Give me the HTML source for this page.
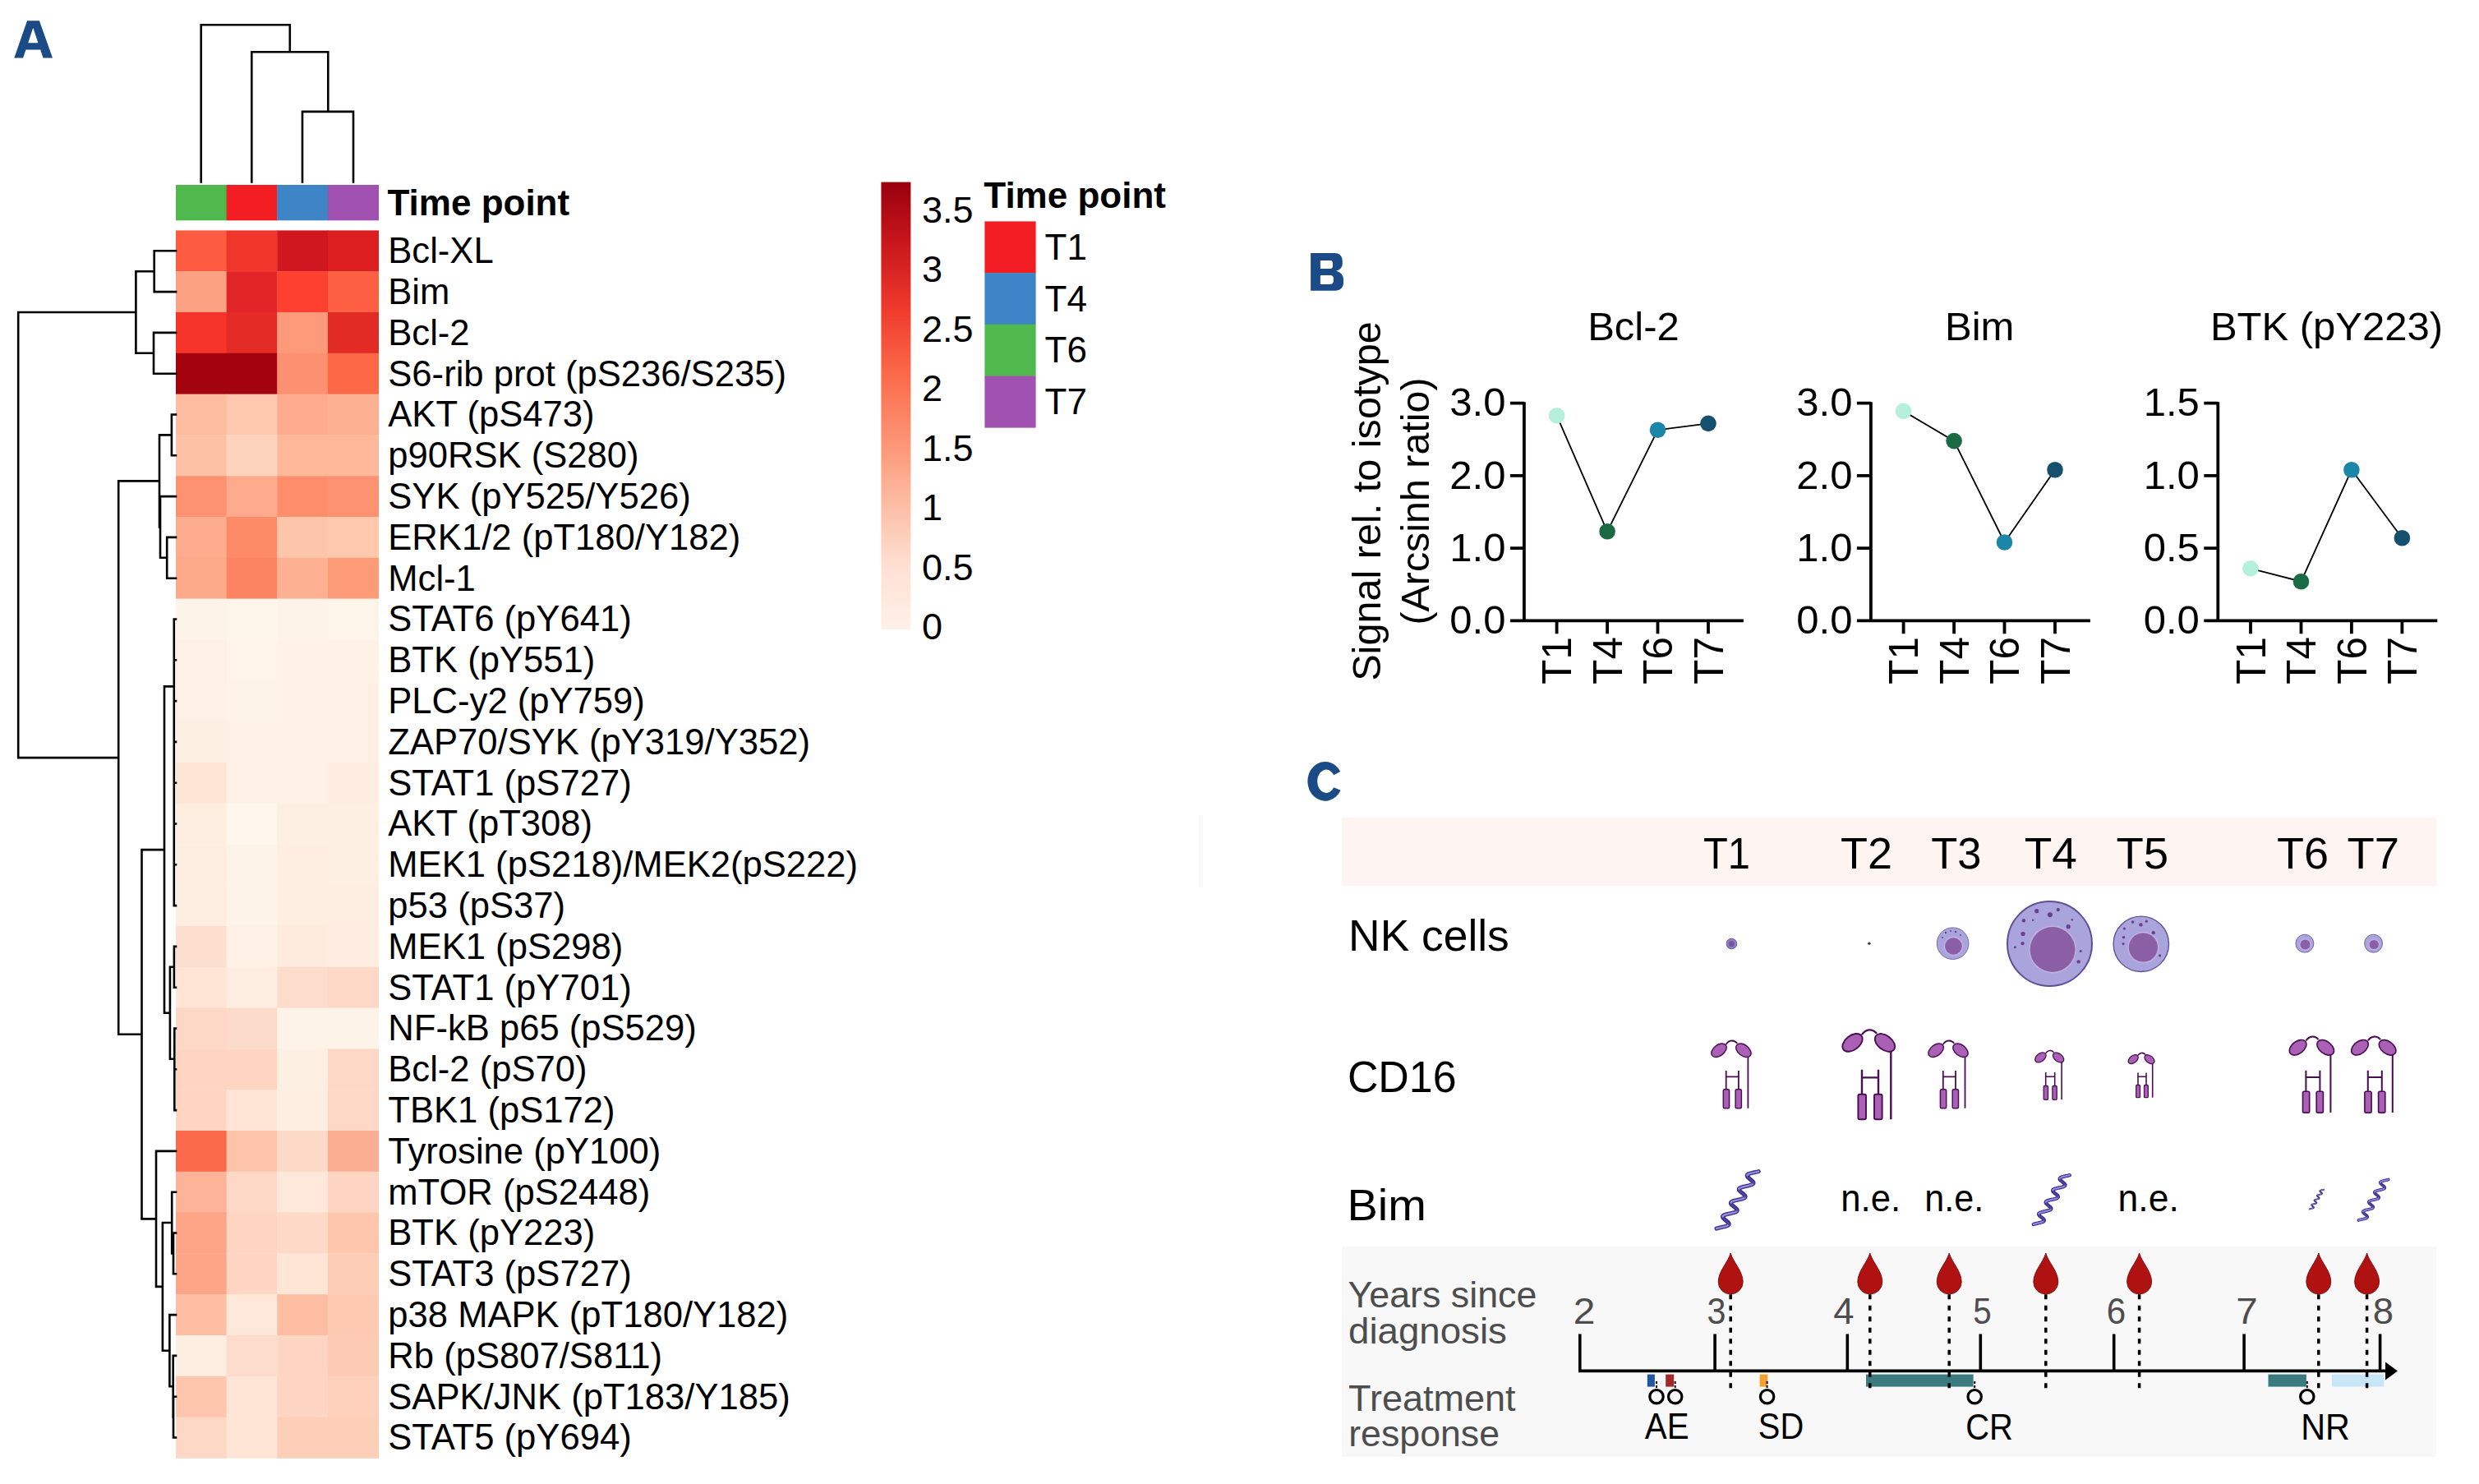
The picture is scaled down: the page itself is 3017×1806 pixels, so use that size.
<!DOCTYPE html>
<html><head><meta charset="utf-8"><style>
html,body{margin:0;padding:0;background:#fff;}
body{width:3017px;height:1806px;overflow:hidden;}
svg{display:block;}
</style></head><body>
<svg width="3017" height="1806" viewBox="0 0 3017 1806">
<rect width="3017" height="1806" fill="#fff"/>
<path fill-rule="evenodd" fill="#1b4b87" d="M17.3 70.6L33 25.2L47.9 25.2L64 70.6L52.5 70.6L49.2 60.6L31.4 60.6L28.1 70.6ZM40.3 33.7L46.4 52.2L34.2 52.2Z"/>
<rect x="214.00" y="280.40" width="62.05" height="50.20" fill="#fd5c40"/>
<rect x="275.65" y="280.40" width="62.05" height="50.20" fill="#f0352a"/>
<rect x="337.30" y="280.40" width="62.05" height="50.20" fill="#d0161f"/>
<rect x="398.95" y="280.40" width="62.05" height="50.20" fill="#dd1e21"/>
<rect x="214.00" y="330.20" width="62.05" height="50.20" fill="#fca283"/>
<rect x="275.65" y="330.20" width="62.05" height="50.20" fill="#e22527"/>
<rect x="337.30" y="330.20" width="62.05" height="50.20" fill="#fe402f"/>
<rect x="398.95" y="330.20" width="62.05" height="50.20" fill="#fd5f43"/>
<rect x="214.00" y="380.00" width="62.05" height="50.20" fill="#f5342a"/>
<rect x="275.65" y="380.00" width="62.05" height="50.20" fill="#e52b26"/>
<rect x="337.30" y="380.00" width="62.05" height="50.20" fill="#fc9a7a"/>
<rect x="398.95" y="380.00" width="62.05" height="50.20" fill="#e32b25"/>
<rect x="214.00" y="429.80" width="62.05" height="50.20" fill="#a3020f"/>
<rect x="275.65" y="429.80" width="62.05" height="50.20" fill="#a3020f"/>
<rect x="337.30" y="429.80" width="62.05" height="50.20" fill="#fd9070"/>
<rect x="398.95" y="429.80" width="62.05" height="50.20" fill="#fd6947"/>
<rect x="214.00" y="479.60" width="62.05" height="50.20" fill="#fdbba0"/>
<rect x="275.65" y="479.60" width="62.05" height="50.20" fill="#fdc8ad"/>
<rect x="337.30" y="479.60" width="62.05" height="50.20" fill="#fdac8d"/>
<rect x="398.95" y="479.60" width="62.05" height="50.20" fill="#fdb193"/>
<rect x="214.00" y="529.40" width="62.05" height="50.20" fill="#fdc2a6"/>
<rect x="275.65" y="529.40" width="62.05" height="50.20" fill="#fdd3bd"/>
<rect x="337.30" y="529.40" width="62.05" height="50.20" fill="#fdb89a"/>
<rect x="398.95" y="529.40" width="62.05" height="50.20" fill="#fdb89a"/>
<rect x="214.00" y="579.20" width="62.05" height="50.20" fill="#fd9270"/>
<rect x="275.65" y="579.20" width="62.05" height="50.20" fill="#fdab8c"/>
<rect x="337.30" y="579.20" width="62.05" height="50.20" fill="#fd8e6c"/>
<rect x="398.95" y="579.20" width="62.05" height="50.20" fill="#fd9270"/>
<rect x="214.00" y="629.00" width="62.05" height="50.20" fill="#fdac8e"/>
<rect x="275.65" y="629.00" width="62.05" height="50.20" fill="#fd8b68"/>
<rect x="337.30" y="629.00" width="62.05" height="50.20" fill="#fdc6aa"/>
<rect x="398.95" y="629.00" width="62.05" height="50.20" fill="#fdc8ac"/>
<rect x="214.00" y="678.80" width="62.05" height="50.20" fill="#fdaa8b"/>
<rect x="275.65" y="678.80" width="62.05" height="50.20" fill="#fd8462"/>
<rect x="337.30" y="678.80" width="62.05" height="50.20" fill="#fdb092"/>
<rect x="398.95" y="678.80" width="62.05" height="50.20" fill="#fd9b78"/>
<rect x="214.00" y="728.60" width="62.05" height="50.20" fill="#fef3e8"/>
<rect x="275.65" y="728.60" width="62.05" height="50.20" fill="#fef5ea"/>
<rect x="337.30" y="728.60" width="62.05" height="50.20" fill="#fef3e8"/>
<rect x="398.95" y="728.60" width="62.05" height="50.20" fill="#fef5ea"/>
<rect x="214.00" y="778.40" width="62.05" height="50.20" fill="#fef0e4"/>
<rect x="275.65" y="778.40" width="62.05" height="50.20" fill="#fef4e9"/>
<rect x="337.30" y="778.40" width="62.05" height="50.20" fill="#fef2e7"/>
<rect x="398.95" y="778.40" width="62.05" height="50.20" fill="#fef2e7"/>
<rect x="214.00" y="828.20" width="62.05" height="50.20" fill="#fef0e4"/>
<rect x="275.65" y="828.20" width="62.05" height="50.20" fill="#fef3e8"/>
<rect x="337.30" y="828.20" width="62.05" height="50.20" fill="#fef2e7"/>
<rect x="398.95" y="828.20" width="62.05" height="50.20" fill="#fef0e4"/>
<rect x="214.00" y="878.00" width="62.05" height="50.20" fill="#feefe3"/>
<rect x="275.65" y="878.00" width="62.05" height="50.20" fill="#fef2e7"/>
<rect x="337.30" y="878.00" width="62.05" height="50.20" fill="#fef2e7"/>
<rect x="398.95" y="878.00" width="62.05" height="50.20" fill="#fef0e4"/>
<rect x="214.00" y="927.80" width="62.05" height="50.20" fill="#fee6d7"/>
<rect x="275.65" y="927.80" width="62.05" height="50.20" fill="#fef2e7"/>
<rect x="337.30" y="927.80" width="62.05" height="50.20" fill="#fef2e7"/>
<rect x="398.95" y="927.80" width="62.05" height="50.20" fill="#feede0"/>
<rect x="214.00" y="977.60" width="62.05" height="50.20" fill="#feeee2"/>
<rect x="275.65" y="977.60" width="62.05" height="50.20" fill="#fef7ee"/>
<rect x="337.30" y="977.60" width="62.05" height="50.20" fill="#feefe3"/>
<rect x="398.95" y="977.60" width="62.05" height="50.20" fill="#feefe3"/>
<rect x="214.00" y="1027.40" width="62.05" height="50.20" fill="#feeee2"/>
<rect x="275.65" y="1027.40" width="62.05" height="50.20" fill="#fef3e8"/>
<rect x="337.30" y="1027.40" width="62.05" height="50.20" fill="#feeee2"/>
<rect x="398.95" y="1027.40" width="62.05" height="50.20" fill="#feefe3"/>
<rect x="214.00" y="1077.20" width="62.05" height="50.20" fill="#feeee2"/>
<rect x="275.65" y="1077.20" width="62.05" height="50.20" fill="#fef3e8"/>
<rect x="337.30" y="1077.20" width="62.05" height="50.20" fill="#feeee2"/>
<rect x="398.95" y="1077.20" width="62.05" height="50.20" fill="#feeee2"/>
<rect x="214.00" y="1127.00" width="62.05" height="50.20" fill="#fddfd0"/>
<rect x="275.65" y="1127.00" width="62.05" height="50.20" fill="#fef0e4"/>
<rect x="337.30" y="1127.00" width="62.05" height="50.20" fill="#feebde"/>
<rect x="398.95" y="1127.00" width="62.05" height="50.20" fill="#feede0"/>
<rect x="214.00" y="1176.80" width="62.05" height="50.20" fill="#fee5d6"/>
<rect x="275.65" y="1176.80" width="62.05" height="50.20" fill="#feeee2"/>
<rect x="337.30" y="1176.80" width="62.05" height="50.20" fill="#fddccc"/>
<rect x="398.95" y="1176.80" width="62.05" height="50.20" fill="#fdd8c6"/>
<rect x="214.00" y="1226.60" width="62.05" height="50.20" fill="#fdd8c6"/>
<rect x="275.65" y="1226.60" width="62.05" height="50.20" fill="#fddbcb"/>
<rect x="337.30" y="1226.60" width="62.05" height="50.20" fill="#fef3e8"/>
<rect x="398.95" y="1226.60" width="62.05" height="50.20" fill="#fef3e8"/>
<rect x="214.00" y="1276.40" width="62.05" height="50.20" fill="#fdd5c2"/>
<rect x="275.65" y="1276.40" width="62.05" height="50.20" fill="#fdd5c2"/>
<rect x="337.30" y="1276.40" width="62.05" height="50.20" fill="#feefe3"/>
<rect x="398.95" y="1276.40" width="62.05" height="50.20" fill="#fdd8c6"/>
<rect x="214.00" y="1326.20" width="62.05" height="50.20" fill="#fdd5c2"/>
<rect x="275.65" y="1326.20" width="62.05" height="50.20" fill="#fee5d6"/>
<rect x="337.30" y="1326.20" width="62.05" height="50.20" fill="#feeee2"/>
<rect x="398.95" y="1326.20" width="62.05" height="50.20" fill="#fdd8c6"/>
<rect x="214.00" y="1376.00" width="62.05" height="50.20" fill="#fb6a4a"/>
<rect x="275.65" y="1376.00" width="62.05" height="50.20" fill="#fdc4aa"/>
<rect x="337.30" y="1376.00" width="62.05" height="50.20" fill="#fdd9c7"/>
<rect x="398.95" y="1376.00" width="62.05" height="50.20" fill="#fcae92"/>
<rect x="214.00" y="1425.80" width="62.05" height="50.20" fill="#fcb398"/>
<rect x="275.65" y="1425.80" width="62.05" height="50.20" fill="#fdd8c6"/>
<rect x="337.30" y="1425.80" width="62.05" height="50.20" fill="#fee8da"/>
<rect x="398.95" y="1425.80" width="62.05" height="50.20" fill="#fdd5c2"/>
<rect x="214.00" y="1475.60" width="62.05" height="50.20" fill="#fca587"/>
<rect x="275.65" y="1475.60" width="62.05" height="50.20" fill="#fdd5c2"/>
<rect x="337.30" y="1475.60" width="62.05" height="50.20" fill="#fdd9c7"/>
<rect x="398.95" y="1475.60" width="62.05" height="50.20" fill="#fdc6ad"/>
<rect x="214.00" y="1525.40" width="62.05" height="50.20" fill="#fca587"/>
<rect x="275.65" y="1525.40" width="62.05" height="50.20" fill="#fdd5c2"/>
<rect x="337.30" y="1525.40" width="62.05" height="50.20" fill="#fee5d6"/>
<rect x="398.95" y="1525.40" width="62.05" height="50.20" fill="#fdcdb7"/>
<rect x="214.00" y="1575.20" width="62.05" height="50.20" fill="#fdbea4"/>
<rect x="275.65" y="1575.20" width="62.05" height="50.20" fill="#fee8da"/>
<rect x="337.30" y="1575.20" width="62.05" height="50.20" fill="#fdbea4"/>
<rect x="398.95" y="1575.20" width="62.05" height="50.20" fill="#fdc9b1"/>
<rect x="214.00" y="1625.00" width="62.05" height="50.20" fill="#feede1"/>
<rect x="275.65" y="1625.00" width="62.05" height="50.20" fill="#fddccb"/>
<rect x="337.30" y="1625.00" width="62.05" height="50.20" fill="#fdd5c2"/>
<rect x="398.95" y="1625.00" width="62.05" height="50.20" fill="#fdcbb4"/>
<rect x="214.00" y="1674.80" width="62.05" height="50.20" fill="#fdc6ad"/>
<rect x="275.65" y="1674.80" width="62.05" height="50.20" fill="#fee5d6"/>
<rect x="337.30" y="1674.80" width="62.05" height="50.20" fill="#fdd5c2"/>
<rect x="398.95" y="1674.80" width="62.05" height="50.20" fill="#fdd0bb"/>
<rect x="214.00" y="1724.60" width="62.05" height="50.20" fill="#fdd8c6"/>
<rect x="275.65" y="1724.60" width="62.05" height="50.20" fill="#fee5d6"/>
<rect x="337.30" y="1724.60" width="62.05" height="50.20" fill="#fdcfb9"/>
<rect x="398.95" y="1724.60" width="62.05" height="50.20" fill="#fdcfb9"/>
<rect x="214.00" y="225" width="62.05" height="43.3" fill="#4fb94d"/>
<rect x="275.65" y="225" width="62.05" height="43.3" fill="#f11d22"/>
<rect x="337.30" y="225" width="62.05" height="43.3" fill="#3d85c6"/>
<rect x="398.95" y="225" width="62.05" height="43.3" fill="#a152b0"/>
<path d="M244.7 30.3V221.4M244.7 30.3H352.8M352.8 30.3V63.3M306.3 63.3H399.3M306.3 63.3V221.4M399.3 63.3V135.9M368.0 135.9H430.0M368.0 135.9V221.4M430.0 135.9V221.4M187.7 305.3V355.1M187.7 305.3H214.0M187.7 355.1H214.0M187.0 404.9V454.7M187.0 404.9H214.0M187.0 454.7H214.0M165.4 330.2V429.8M165.4 330.2H187.7M165.4 429.8H187.0M22.2 380.0H165.4M208.9 504.5V554.3M208.9 504.5H214.0M208.9 554.3H214.0M203.2 653.9V703.7M203.2 653.9H214.0M203.2 703.7H214.0M195.0 604.1V678.8M195.0 604.1H214.0M195.0 678.8H203.2M194.0 529.4V641.4M194.0 529.4H208.9M194.0 641.4H195.0M144.2 585.4H194.0M211.8 753.5V1102.1M211.8 753.5H214.0M211.8 803.3H214.0M211.8 853.1H214.0M211.8 902.9H214.0M211.8 952.7H214.0M211.8 1002.5H214.0M211.8 1052.3H214.0M211.8 1102.1H214.0M200.0 835.4H211.8M211.9 1151.9V1201.7M211.9 1151.9H214.0M211.9 1201.7H214.0M212.3 1251.5V1351.1M212.3 1251.5H214.0M212.3 1301.3H214.0M212.3 1351.1H214.0M206.9 1176.8V1288.8M206.9 1176.8H211.9M206.9 1288.8H212.3M200.0 1232.8H206.9M200.0 835.4V1232.8M172.5 1034.1H200.0M190.0 1400.9H214.0M211.0 1500.5V1550.3M211.0 1500.5H214.0M211.0 1550.3H214.0M209.2 1450.7V1525.4M209.2 1450.7H214.0M209.2 1525.4H211.0M211.0 1699.7V1749.5M211.0 1699.7H214.0M211.0 1749.5H214.0M210.7 1649.9V1724.6M210.7 1649.9H214.0M210.7 1724.6H211.0M206.4 1600.1V1687.2M206.4 1600.1H214.0M206.4 1687.2H210.7M197.9 1488.0V1643.7M197.9 1488.0H209.2M197.9 1643.7H206.4M190.0 1400.9V1565.9M190.0 1565.9H197.9M172.5 1034.1V1483.4M172.5 1483.4H190.0M144.2 1258.7H172.5M144.2 585.4V1258.7M22.2 922.1H144.2M22.2 380.0V922.1" stroke="#000" stroke-width="2.6" fill="none" stroke-linecap="square"/>
<text x="472.3" y="320.2" font-family='"Liberation Sans", sans-serif' font-size="43.6" fill="#000">Bcl-XL</text>
<text x="472.3" y="370.0" font-family='"Liberation Sans", sans-serif' font-size="43.6" fill="#000">Bim</text>
<text x="472.3" y="419.8" font-family='"Liberation Sans", sans-serif' font-size="43.6" fill="#000">Bcl-2</text>
<text x="472.3" y="469.6" font-family='"Liberation Sans", sans-serif' font-size="43.6" fill="#000">S6-rib prot (pS236/S235)</text>
<text x="472.3" y="519.4" font-family='"Liberation Sans", sans-serif' font-size="43.6" fill="#000">AKT (pS473)</text>
<text x="472.3" y="569.2" font-family='"Liberation Sans", sans-serif' font-size="43.6" fill="#000">p90RSK (S280)</text>
<text x="472.3" y="619.0" font-family='"Liberation Sans", sans-serif' font-size="43.6" fill="#000">SYK (pY525/Y526)</text>
<text x="472.3" y="668.8" font-family='"Liberation Sans", sans-serif' font-size="43.6" fill="#000">ERK1/2 (pT180/Y182)</text>
<text x="472.3" y="718.6" font-family='"Liberation Sans", sans-serif' font-size="43.6" fill="#000">Mcl-1</text>
<text x="472.3" y="768.4" font-family='"Liberation Sans", sans-serif' font-size="43.6" fill="#000">STAT6 (pY641)</text>
<text x="472.3" y="818.2" font-family='"Liberation Sans", sans-serif' font-size="43.6" fill="#000">BTK (pY551)</text>
<text x="472.3" y="868.0" font-family='"Liberation Sans", sans-serif' font-size="43.6" fill="#000">PLC-y2 (pY759)</text>
<text x="472.3" y="917.8" font-family='"Liberation Sans", sans-serif' font-size="43.6" fill="#000">ZAP70/SYK (pY319/Y352)</text>
<text x="472.3" y="967.6" font-family='"Liberation Sans", sans-serif' font-size="43.6" fill="#000">STAT1 (pS727)</text>
<text x="472.3" y="1017.4" font-family='"Liberation Sans", sans-serif' font-size="43.6" fill="#000">AKT (pT308)</text>
<text x="472.3" y="1067.2" font-family='"Liberation Sans", sans-serif' font-size="43.6" fill="#000">MEK1 (pS218)/MEK2(pS222)</text>
<text x="472.3" y="1117.0" font-family='"Liberation Sans", sans-serif' font-size="43.6" fill="#000">p53 (pS37)</text>
<text x="472.3" y="1166.8" font-family='"Liberation Sans", sans-serif' font-size="43.6" fill="#000">MEK1 (pS298)</text>
<text x="472.3" y="1216.6" font-family='"Liberation Sans", sans-serif' font-size="43.6" fill="#000">STAT1 (pY701)</text>
<text x="472.3" y="1266.4" font-family='"Liberation Sans", sans-serif' font-size="43.6" fill="#000">NF-kB p65 (pS529)</text>
<text x="472.3" y="1316.2" font-family='"Liberation Sans", sans-serif' font-size="43.6" fill="#000">Bcl-2 (pS70)</text>
<text x="472.3" y="1366.0" font-family='"Liberation Sans", sans-serif' font-size="43.6" fill="#000">TBK1 (pS172)</text>
<text x="472.3" y="1415.8" font-family='"Liberation Sans", sans-serif' font-size="43.6" fill="#000">Tyrosine (pY100)</text>
<text x="472.3" y="1465.6" font-family='"Liberation Sans", sans-serif' font-size="43.6" fill="#000">mTOR (pS2448)</text>
<text x="472.3" y="1515.4" font-family='"Liberation Sans", sans-serif' font-size="43.6" fill="#000">BTK (pY223)</text>
<text x="472.3" y="1565.2" font-family='"Liberation Sans", sans-serif' font-size="43.6" fill="#000">STAT3 (pS727)</text>
<text x="472.3" y="1615.0" font-family='"Liberation Sans", sans-serif' font-size="43.6" fill="#000">p38 MAPK (pT180/Y182)</text>
<text x="472.3" y="1664.8" font-family='"Liberation Sans", sans-serif' font-size="43.6" fill="#000">Rb (pS807/S811)</text>
<text x="472.3" y="1714.6" font-family='"Liberation Sans", sans-serif' font-size="43.6" fill="#000">SAPK/JNK (pT183/Y185)</text>
<text x="472.3" y="1764.4" font-family='"Liberation Sans", sans-serif' font-size="43.6" fill="#000">STAT5 (pY694)</text>
<text x="471.5" y="262.4" font-family='"Liberation Sans", sans-serif' font-weight="bold" font-size="44" fill="#000">Time point</text>
<defs><linearGradient id="cb" x1="0" y1="0" x2="0" y2="1"><stop offset="0" stop-color="#99000d"/><stop offset="0.143" stop-color="#cb181d"/><stop offset="0.286" stop-color="#ef3b2c"/><stop offset="0.429" stop-color="#fb6a4a"/><stop offset="0.571" stop-color="#fc9272"/><stop offset="0.714" stop-color="#fcbba1"/><stop offset="0.857" stop-color="#fee0d2"/><stop offset="1" stop-color="#fff0e8"/></linearGradient></defs>
<rect x="1072.4" y="221.6" width="36" height="544.4" fill="url(#cb)"/>
<text x="1122" y="270.8" font-family='"Liberation Sans", sans-serif' font-size="45" fill="#000">3.5</text>
<text x="1122" y="343.3" font-family='"Liberation Sans", sans-serif' font-size="45" fill="#000">3</text>
<text x="1122" y="415.8" font-family='"Liberation Sans", sans-serif' font-size="45" fill="#000">2.5</text>
<text x="1122" y="488.3" font-family='"Liberation Sans", sans-serif' font-size="45" fill="#000">2</text>
<text x="1122" y="560.8" font-family='"Liberation Sans", sans-serif' font-size="45" fill="#000">1.5</text>
<text x="1122" y="633.3" font-family='"Liberation Sans", sans-serif' font-size="45" fill="#000">1</text>
<text x="1122" y="705.8" font-family='"Liberation Sans", sans-serif' font-size="45" fill="#000">0.5</text>
<text x="1122" y="778.3" font-family='"Liberation Sans", sans-serif' font-size="45" fill="#000">0</text>
<text x="1197.3" y="252.9" font-family='"Liberation Sans", sans-serif' font-weight="bold" font-size="44" fill="#000">Time point</text>
<rect x="1198.4" y="269.4" width="62.2" height="63.1" fill="#f11d22"/>
<text x="1271.5" y="315.8" font-family='"Liberation Sans", sans-serif' font-size="44" fill="#000">T1</text>
<rect x="1198.4" y="332.1" width="62.2" height="63.1" fill="#3d85c6"/>
<text x="1271.5" y="378.5" font-family='"Liberation Sans", sans-serif' font-size="44" fill="#000">T4</text>
<rect x="1198.4" y="394.8" width="62.2" height="63.1" fill="#4fb94d"/>
<text x="1271.5" y="441.2" font-family='"Liberation Sans", sans-serif' font-size="44" fill="#000">T6</text>
<rect x="1198.4" y="457.5" width="62.2" height="63.1" fill="#a152b0"/>
<text x="1271.5" y="503.9" font-family='"Liberation Sans", sans-serif' font-size="44" fill="#000">T7</text>
<rect x="1459" y="992" width="5" height="88" fill="#f8f8f8"/>
<path fill-rule="evenodd" fill="#1b4b87" d="M1595.1 308H1624.5C1630.5 308 1633.8 312 1633.8 318V321C1633.8 325.5 1630 328.8 1626 329.8C1631 331 1635 334.5 1635 340V344C1635 350 1631 353.7 1625 353.7H1595.1ZM1606.9 316.9H1619.5C1621 316.9 1622 318.5 1622 320V324C1622 326 1620.5 327.1 1618.5 327.1H1606.9ZM1606.9 334.9H1619C1621.5 334.9 1622.9 336.5 1622.9 338.5V342.5C1622.9 344.5 1621 345.9 1618.5 345.9H1606.9Z"/>
<text transform="translate(1679.5,610) rotate(-90)" text-anchor="middle" font-family='"Liberation Sans", sans-serif' font-size="48.6" fill="#000">Signal rel. to isotype</text>
<text transform="translate(1738.5,610) rotate(-90)" text-anchor="middle" font-family='"Liberation Sans", sans-serif' font-size="48.4" fill="#000">(Arcsinh ratio)</text>
<text x="1988.0" y="413.8" text-anchor="middle" font-family='"Liberation Sans", sans-serif' font-size="49" fill="#000">Bcl-2</text>
<path d="M1854.9 489.2V755.3M1837.9 755.3H2121.9M1837.9 490.7H1854.9M1894.6 755.3V771.3M1837.9 578.9H1854.9M1956.1 755.3V771.3M1837.9 667.1H1854.9M2017.5 755.3V771.3M1837.9 755.3H1854.9M2079.0 755.3V771.3" stroke="#000" stroke-width="3.8" fill="none"/>
<text x="1832.4" y="506.3" text-anchor="end" font-family='"Liberation Sans", sans-serif' font-size="49" fill="#000">3.0</text>
<text x="1832.4" y="594.5" text-anchor="end" font-family='"Liberation Sans", sans-serif' font-size="49" fill="#000">2.0</text>
<text x="1832.4" y="682.7" text-anchor="end" font-family='"Liberation Sans", sans-serif' font-size="49" fill="#000">1.0</text>
<text x="1832.4" y="770.9" text-anchor="end" font-family='"Liberation Sans", sans-serif' font-size="49" fill="#000">0.0</text>
<polyline points="1894.6,505.7 1956.1,646.8 2017.5,523.3 2079.0,515.4" stroke="#000" stroke-width="1.8" fill="none"/>
<circle cx="1894.6" cy="505.7" r="9.8" fill="#b4f0dc"/>
<circle cx="1956.1" cy="646.8" r="9.8" fill="#1a6b45"/>
<circle cx="2017.5" cy="523.3" r="9.8" fill="#1b86a8"/>
<circle cx="2079.0" cy="515.4" r="9.8" fill="#15506e"/>
<text transform="translate(1912.3,832.8) rotate(-90)" text-anchor="start" font-family='"Liberation Sans", sans-serif' font-size="49.5" fill="#000">T1</text>
<text transform="translate(1973.8,832.8) rotate(-90)" text-anchor="start" font-family='"Liberation Sans", sans-serif' font-size="49.5" fill="#000">T4</text>
<text transform="translate(2035.2,832.8) rotate(-90)" text-anchor="start" font-family='"Liberation Sans", sans-serif' font-size="49.5" fill="#000">T6</text>
<text transform="translate(2096.7,832.8) rotate(-90)" text-anchor="start" font-family='"Liberation Sans", sans-serif' font-size="49.5" fill="#000">T7</text>
<text x="2409.2" y="413.8" text-anchor="middle" font-family='"Liberation Sans", sans-serif' font-size="49" fill="#000">Bim</text>
<path d="M2276.9 489.2V755.3M2259.9 755.3H2543.9M2259.9 490.7H2276.9M2316.6 755.3V771.3M2259.9 578.9H2276.9M2378.1 755.3V771.3M2259.9 667.1H2276.9M2439.5 755.3V771.3M2259.9 755.3H2276.9M2501.0 755.3V771.3" stroke="#000" stroke-width="3.8" fill="none"/>
<text x="2254.4" y="506.3" text-anchor="end" font-family='"Liberation Sans", sans-serif' font-size="49" fill="#000">3.0</text>
<text x="2254.4" y="594.5" text-anchor="end" font-family='"Liberation Sans", sans-serif' font-size="49" fill="#000">2.0</text>
<text x="2254.4" y="682.7" text-anchor="end" font-family='"Liberation Sans", sans-serif' font-size="49" fill="#000">1.0</text>
<text x="2254.4" y="770.9" text-anchor="end" font-family='"Liberation Sans", sans-serif' font-size="49" fill="#000">0.0</text>
<polyline points="2316.6,500.4 2378.1,536.6 2439.5,660.0 2501.0,571.8" stroke="#000" stroke-width="1.8" fill="none"/>
<circle cx="2316.6" cy="500.4" r="9.8" fill="#b4f0dc"/>
<circle cx="2378.1" cy="536.6" r="9.8" fill="#1a6b45"/>
<circle cx="2439.5" cy="660.0" r="9.8" fill="#1b86a8"/>
<circle cx="2501.0" cy="571.8" r="9.8" fill="#15506e"/>
<text transform="translate(2334.3,832.8) rotate(-90)" text-anchor="start" font-family='"Liberation Sans", sans-serif' font-size="49.5" fill="#000">T1</text>
<text transform="translate(2395.8,832.8) rotate(-90)" text-anchor="start" font-family='"Liberation Sans", sans-serif' font-size="49.5" fill="#000">T4</text>
<text transform="translate(2457.2,832.8) rotate(-90)" text-anchor="start" font-family='"Liberation Sans", sans-serif' font-size="49.5" fill="#000">T6</text>
<text transform="translate(2518.7,832.8) rotate(-90)" text-anchor="start" font-family='"Liberation Sans", sans-serif' font-size="49.5" fill="#000">T7</text>
<text x="2831.5" y="413.8" text-anchor="middle" font-family='"Liberation Sans", sans-serif' font-size="49" fill="#000">BTK (pY223)</text>
<path d="M2699.3 489.2V755.3M2682.3 755.3H2966.3M2682.3 490.7H2699.3M2739.0 755.3V771.3M2682.3 578.9H2699.3M2800.5 755.3V771.3M2682.3 667.1H2699.3M2861.9 755.3V771.3M2682.3 755.3H2699.3M2923.4 755.3V771.3" stroke="#000" stroke-width="3.8" fill="none"/>
<text x="2676.8" y="506.3" text-anchor="end" font-family='"Liberation Sans", sans-serif' font-size="49" fill="#000">1.5</text>
<text x="2676.8" y="594.5" text-anchor="end" font-family='"Liberation Sans", sans-serif' font-size="49" fill="#000">1.0</text>
<text x="2676.8" y="682.7" text-anchor="end" font-family='"Liberation Sans", sans-serif' font-size="49" fill="#000">0.5</text>
<text x="2676.8" y="770.9" text-anchor="end" font-family='"Liberation Sans", sans-serif' font-size="49" fill="#000">0.0</text>
<polyline points="2739.0,691.8 2800.5,707.7 2861.9,571.8 2923.4,654.8" stroke="#000" stroke-width="1.8" fill="none"/>
<circle cx="2739.0" cy="691.8" r="9.8" fill="#b4f0dc"/>
<circle cx="2800.5" cy="707.7" r="9.8" fill="#1a6b45"/>
<circle cx="2861.9" cy="571.8" r="9.8" fill="#1b86a8"/>
<circle cx="2923.4" cy="654.8" r="9.8" fill="#15506e"/>
<text transform="translate(2756.7,832.8) rotate(-90)" text-anchor="start" font-family='"Liberation Sans", sans-serif' font-size="49.5" fill="#000">T1</text>
<text transform="translate(2818.2,832.8) rotate(-90)" text-anchor="start" font-family='"Liberation Sans", sans-serif' font-size="49.5" fill="#000">T4</text>
<text transform="translate(2879.6,832.8) rotate(-90)" text-anchor="start" font-family='"Liberation Sans", sans-serif' font-size="49.5" fill="#000">T6</text>
<text transform="translate(2941.1,832.8) rotate(-90)" text-anchor="start" font-family='"Liberation Sans", sans-serif' font-size="49.5" fill="#000">T7</text>
<path fill="#1b4b87" d="M1631.2 939.1A21.3 23.9 0 1 0 1631.6 961.7L1623.2 958.2A10.8 14.15 0 1 1 1623.2 943.3Z"/>
<rect x="1633" y="995" width="1332" height="83" fill="#fef4f1"/>
<text transform="translate(2072.89,1057.10) scale(0.9051,1)" font-family='"Liberation Sans", sans-serif' font-weight="normal" font-size="54" fill="#000">T1</text>
<text transform="translate(2240.10,1056.90) scale(1.0000,1)" font-family='"Liberation Sans", sans-serif' font-weight="normal" font-size="54" fill="#000">T2</text>
<text transform="translate(2350.13,1057.00) scale(0.9717,1)" font-family='"Liberation Sans", sans-serif' font-weight="normal" font-size="54" fill="#000">T3</text>
<text transform="translate(2463.78,1057.00) scale(1.0183,1)" font-family='"Liberation Sans", sans-serif' font-weight="normal" font-size="54" fill="#000">T4</text>
<text transform="translate(2575.39,1057.00) scale(1.0117,1)" font-family='"Liberation Sans", sans-serif' font-weight="normal" font-size="54" fill="#000">T5</text>
<text transform="translate(2771.00,1057.00) scale(1.0000,1)" font-family='"Liberation Sans", sans-serif' font-weight="normal" font-size="54" fill="#000">T6</text>
<text transform="translate(2856.39,1057.00) scale(1.0085,1)" font-family='"Liberation Sans", sans-serif' font-weight="normal" font-size="54" fill="#000">T7</text>
<text transform="translate(1641.11,1156.80) scale(0.9974,1)" font-family='"Liberation Sans", sans-serif' font-weight="normal" font-size="53.5" fill="#000">NK cells</text>
<text transform="translate(1639.89,1328.75) scale(0.9702,1)" font-family='"Liberation Sans", sans-serif' font-weight="normal" font-size="53.5" fill="#000">CD16</text>
<text transform="translate(1639.42,1485.20) scale(1.0459,1)" font-family='"Liberation Sans", sans-serif' font-weight="normal" font-size="53.5" fill="#000">Bim</text>
<circle cx="2107.4" cy="1148.5" r="6.3" fill="#9080c4" stroke="#5d5090" stroke-width="0.9"/>
<circle cx="2107.4" cy="1148.7" r="3.6" fill="#7a55a0"/>
<circle cx="2274.9" cy="1148.2" r="1.6" fill="#333"/>
<circle cx="2376.6" cy="1148.2" r="19.3" fill="#a9a5dc" stroke="#5e4e98" stroke-width="0.80"/>
<circle cx="2377.4" cy="1151.5" r="11.8" fill="#c3aee2"/>
<circle cx="2377.4" cy="1151.5" r="10.3" fill="#8a5fa5"/>
<circle cx="2368.0" cy="1135.0" r="1.2" fill="#6a3f8e"/>
<circle cx="2374.0" cy="1133.0" r="1" fill="#6a3f8e"/>
<circle cx="2380.0" cy="1134.0" r="1.2" fill="#6a3f8e"/>
<circle cx="2386.0" cy="1138.0" r="1" fill="#6a3f8e"/>
<circle cx="2364.0" cy="1141.0" r="1" fill="#6a3f8e"/>
<circle cx="2494.5" cy="1148.5" r="51.5" fill="#a9a5dc" stroke="#5e4e98" stroke-width="2.00"/>
<circle cx="2498" cy="1155.5" r="28.9" fill="#c3aee2"/>
<circle cx="2498" cy="1155.5" r="27.4" fill="#8a5fa5"/>
<circle cx="2478.7" cy="1108.7" r="2.6" fill="#6a3f8e"/>
<circle cx="2494.9" cy="1113.3" r="3" fill="#6a3f8e"/>
<circle cx="2504.7" cy="1107.1" r="2.2" fill="#6a3f8e"/>
<circle cx="2462.9" cy="1120.3" r="2.2" fill="#6a3f8e"/>
<circle cx="2462.0" cy="1136.5" r="2.6" fill="#6a3f8e"/>
<circle cx="2461.5" cy="1148.1" r="2.2" fill="#6a3f8e"/>
<circle cx="2517.2" cy="1127.7" r="2.6" fill="#6a3f8e"/>
<circle cx="2529.7" cy="1170.4" r="2.2" fill="#6a3f8e"/>
<circle cx="2532.1" cy="1157.4" r="1.5" fill="#6a3f8e"/>
<circle cx="2452.3" cy="1152.7" r="1.5" fill="#6a3f8e"/>
<circle cx="2474.1" cy="1119.8" r="1.2" fill="#6a3f8e"/>
<circle cx="2521.9" cy="1119.3" r="1.2" fill="#6a3f8e"/>
<circle cx="2605.8" cy="1148.8" r="33.7" fill="#a9a5dc" stroke="#5e4e98" stroke-width="1.35"/>
<circle cx="2608.4" cy="1153" r="19.1" fill="#c3aee2"/>
<circle cx="2608.4" cy="1153" r="17.6" fill="#8a5fa5"/>
<circle cx="2595.6" cy="1122.1" r="1.8" fill="#6a3f8e"/>
<circle cx="2605.4" cy="1125.4" r="2.2" fill="#6a3f8e"/>
<circle cx="2612.3" cy="1121.2" r="1.6" fill="#6a3f8e"/>
<circle cx="2585.4" cy="1130.0" r="1.6" fill="#6a3f8e"/>
<circle cx="2584.5" cy="1140.7" r="1.8" fill="#6a3f8e"/>
<circle cx="2584.0" cy="1148.6" r="1.6" fill="#6a3f8e"/>
<circle cx="2620.7" cy="1135.1" r="2.2" fill="#6a3f8e"/>
<circle cx="2628.6" cy="1162.9" r="1.6" fill="#6a3f8e"/>
<circle cx="2804.9" cy="1148.2" r="11" fill="#a9a5dc" stroke="#5e4e98" stroke-width="0.80"/>
<circle cx="2805.5" cy="1149.5" r="7.5" fill="#c3aee2"/>
<circle cx="2805.5" cy="1149.5" r="6" fill="#8a5fa5"/>
<circle cx="2888.6" cy="1148.2" r="11" fill="#a9a5dc" stroke="#5e4e98" stroke-width="0.80"/>
<circle cx="2889.2" cy="1149.5" r="7.1" fill="#c3aee2"/>
<circle cx="2889.2" cy="1149.5" r="5.6" fill="#8a5fa5"/>
<ellipse cx="2092.0" cy="1278.2" rx="10.4" ry="6.6" transform="rotate(-38 2092.0 1278.2)" fill="#aa60b5" stroke="#4a0f52" stroke-width="1.45"/>
<ellipse cx="2121.9" cy="1278.3" rx="10.4" ry="6.6" transform="rotate(38 2121.9 1278.3)" fill="#aa60b5" stroke="#4a0f52" stroke-width="1.45"/>
<path d="M2100.7 1270.9C2104.5 1265.2 2110.6 1265.2 2114.3 1269.8M2127.4 1286.4V1348.8M2100.7 1303.0V1326.1M2115.9 1303.0V1326.1M2100.7 1310.4H2115.9" stroke="#4a0f52" stroke-width="1.81" fill="none"/>
<rect x="2097.3" y="1325.7" width="7.3" height="23.1" rx="1.5" fill="#aa60b5" stroke="#4a0f52" stroke-width="1.45"/>
<rect x="2112.1" y="1325.7" width="7.3" height="23.1" rx="1.5" fill="#aa60b5" stroke="#4a0f52" stroke-width="1.45"/>
<ellipse cx="2254.5" cy="1268.9" rx="13.8" ry="8.7" transform="rotate(-38 2254.5 1268.9)" fill="#aa60b5" stroke="#4a0f52" stroke-width="1.92"/>
<ellipse cx="2294.0" cy="1269.0" rx="13.8" ry="8.7" transform="rotate(38 2294.0 1269.0)" fill="#aa60b5" stroke="#4a0f52" stroke-width="1.92"/>
<path d="M2266.0 1259.2C2271.0 1251.7 2279.0 1251.7 2284.0 1257.7M2301.3 1279.7V1362.2M2266.0 1301.7V1332.2M2286.0 1301.7V1332.2M2266.0 1311.4H2286.0" stroke="#4a0f52" stroke-width="2.40" fill="none"/>
<rect x="2261.4" y="1331.7" width="9.6" height="30.5" rx="2.0" fill="#aa60b5" stroke="#4a0f52" stroke-width="1.92"/>
<rect x="2281.0" y="1331.7" width="9.6" height="30.5" rx="2.0" fill="#aa60b5" stroke="#4a0f52" stroke-width="1.92"/>
<ellipse cx="2356.1" cy="1278.2" rx="10.4" ry="6.6" transform="rotate(-38 2356.1 1278.2)" fill="#aa60b5" stroke="#4a0f52" stroke-width="1.45"/>
<ellipse cx="2386.0" cy="1278.3" rx="10.4" ry="6.6" transform="rotate(38 2386.0 1278.3)" fill="#aa60b5" stroke="#4a0f52" stroke-width="1.45"/>
<path d="M2364.8 1270.9C2368.6 1265.2 2374.7 1265.2 2378.4 1269.8M2391.5 1286.4V1348.8M2364.8 1303.0V1326.1M2380.0 1303.0V1326.1M2364.8 1310.4H2380.0" stroke="#4a0f52" stroke-width="1.81" fill="none"/>
<rect x="2361.4" y="1325.7" width="7.3" height="23.1" rx="1.5" fill="#aa60b5" stroke="#4a0f52" stroke-width="1.45"/>
<rect x="2376.2" y="1325.7" width="7.3" height="23.1" rx="1.5" fill="#aa60b5" stroke="#4a0f52" stroke-width="1.45"/>
<ellipse cx="2483.4" cy="1286.9" rx="7.6" ry="4.8" transform="rotate(-38 2483.4 1286.9)" fill="#aa60b5" stroke="#4a0f52" stroke-width="1.28"/>
<ellipse cx="2505.1" cy="1287.0" rx="7.6" ry="4.8" transform="rotate(38 2505.1 1287.0)" fill="#aa60b5" stroke="#4a0f52" stroke-width="1.28"/>
<path d="M2489.7 1281.6C2492.4 1277.5 2496.8 1277.5 2499.6 1280.8M2509.1 1292.8V1338.2M2489.7 1305.0V1321.7M2500.7 1305.0V1321.7M2489.7 1310.3H2500.7" stroke="#4a0f52" stroke-width="1.60" fill="none"/>
<rect x="2487.2" y="1321.5" width="5.3" height="16.8" rx="1.1" fill="#aa60b5" stroke="#4a0f52" stroke-width="1.28"/>
<rect x="2497.9" y="1321.5" width="5.3" height="16.8" rx="1.1" fill="#aa60b5" stroke="#4a0f52" stroke-width="1.28"/>
<ellipse cx="2596.2" cy="1289.1" rx="6.9" ry="4.3" transform="rotate(-38 2596.2 1289.1)" fill="#aa60b5" stroke="#4a0f52" stroke-width="1.28"/>
<ellipse cx="2616.0" cy="1289.2" rx="6.9" ry="4.3" transform="rotate(38 2616.0 1289.2)" fill="#aa60b5" stroke="#4a0f52" stroke-width="1.28"/>
<path d="M2602.0 1284.2C2604.5 1280.5 2608.5 1280.5 2611.0 1283.5M2619.7 1294.5V1335.8M2602.0 1305.5V1320.8M2612.0 1305.5V1320.8M2602.0 1310.3H2612.0" stroke="#4a0f52" stroke-width="1.60" fill="none"/>
<rect x="2599.7" y="1320.5" width="4.8" height="15.2" rx="1.0" fill="#aa60b5" stroke="#4a0f52" stroke-width="1.28"/>
<rect x="2609.5" y="1320.5" width="4.8" height="15.2" rx="1.0" fill="#aa60b5" stroke="#4a0f52" stroke-width="1.28"/>
<ellipse cx="2796.6" cy="1274.8" rx="11.7" ry="7.4" transform="rotate(-38 2796.6 1274.8)" fill="#aa60b5" stroke="#4a0f52" stroke-width="1.63"/>
<ellipse cx="2830.2" cy="1274.9" rx="11.7" ry="7.4" transform="rotate(38 2830.2 1274.9)" fill="#aa60b5" stroke="#4a0f52" stroke-width="1.63"/>
<path d="M2806.4 1266.5C2810.7 1260.2 2817.5 1260.2 2821.7 1265.2M2836.4 1284.0V1354.1M2806.4 1302.7V1328.6M2823.4 1302.7V1328.6M2806.4 1310.9H2823.4" stroke="#4a0f52" stroke-width="2.04" fill="none"/>
<rect x="2802.5" y="1328.2" width="8.2" height="25.9" rx="1.7" fill="#aa60b5" stroke="#4a0f52" stroke-width="1.63"/>
<rect x="2819.2" y="1328.2" width="8.2" height="25.9" rx="1.7" fill="#aa60b5" stroke="#4a0f52" stroke-width="1.63"/>
<ellipse cx="2872.0" cy="1274.8" rx="11.7" ry="7.4" transform="rotate(-38 2872.0 1274.8)" fill="#aa60b5" stroke="#4a0f52" stroke-width="1.63"/>
<ellipse cx="2905.6" cy="1274.9" rx="11.7" ry="7.4" transform="rotate(38 2905.6 1274.9)" fill="#aa60b5" stroke="#4a0f52" stroke-width="1.63"/>
<path d="M2881.8 1266.5C2886.1 1260.2 2892.9 1260.2 2897.1 1265.2M2911.8 1284.0V1354.1M2881.8 1302.7V1328.6M2898.8 1302.7V1328.6M2881.8 1310.9H2898.8" stroke="#4a0f52" stroke-width="2.04" fill="none"/>
<rect x="2877.9" y="1328.2" width="8.2" height="25.9" rx="1.7" fill="#aa60b5" stroke="#4a0f52" stroke-width="1.63"/>
<rect x="2894.6" y="1328.2" width="8.2" height="25.9" rx="1.7" fill="#aa60b5" stroke="#4a0f52" stroke-width="1.63"/>
<path d="M2089.0 1495.2 L2089.8 1494.9 L2090.8 1494.6 L2091.8 1494.3 L2092.9 1494.1 L2094.0 1493.8 L2095.1 1493.6 L2096.3 1493.3 L2097.4 1493.1 L2098.5 1492.8 L2099.6 1492.6 L2100.5 1492.3 L2101.4 1492.0 L2102.2 1491.7 L2102.9 1491.4 L2103.4 1491.0 L2103.8 1490.6 L2104.1 1490.3 L2104.2 1489.8 L2104.2 1489.4 L2104.1 1489.0 L2103.9 1488.5 L2103.5 1488.0 L2103.1 1487.5 L2102.5 1487.0 L2101.9 1486.5 L2101.3 1485.9 L2100.6 1485.4 L2099.9 1484.8 L2099.3 1484.3 L2098.6 1483.8 L2098.0 1483.2 L2097.5 1482.7 L2097.1 1482.2 L2096.8 1481.7 L2096.6 1481.3 L2096.5 1480.8 L2096.5 1480.4 L2096.7 1480.0 L2097.0 1479.6 L2097.5 1479.2 L2098.0 1478.9 L2098.7 1478.6 L2099.5 1478.3 L2100.5 1478.0 L2101.5 1477.7 L2102.5 1477.5 L2103.6 1477.2 L2104.8 1477.0 L2105.9 1476.7 L2107.1 1476.5 L2108.2 1476.2 L2109.2 1475.9 L2110.2 1475.7 L2111.1 1475.4 L2111.9 1475.1 L2112.6 1474.8 L2113.2 1474.4 L2113.6 1474.1 L2114.0 1473.7 L2114.1 1473.3 L2114.2 1472.8 L2114.1 1472.4 L2113.8 1471.9 L2113.5 1471.4 L2113.1 1470.9 L2112.6 1470.4 L2112.0 1469.9 L2111.3 1469.4 L2110.7 1468.8 L2110.0 1468.3 L2109.3 1467.7 L2108.7 1467.2 L2108.1 1466.7 L2107.6 1466.2 L2107.1 1465.7 L2106.8 1465.2 L2106.5 1464.7 L2106.4 1464.2 L2106.4 1463.8 L2106.6 1463.4 L2106.8 1463.0 L2107.3 1462.6 L2107.8 1462.3 L2108.5 1462.0 L2109.3 1461.7 L2110.2 1461.4 L2111.1 1461.1 L2112.2 1460.8 L2113.3 1460.6 L2114.4 1460.3 L2115.6 1460.1 L2116.7 1459.8 L2117.8 1459.6 L2118.9 1459.3 L2119.9 1459.0 L2120.8 1458.8 L2121.7 1458.5 L2122.4 1458.1 L2123.0 1457.8 L2123.5 1457.5 L2123.8 1457.1 L2124.0 1456.7 L2124.1 1456.3 L2124.0 1455.8 L2123.8 1455.3 L2123.5 1454.9 L2123.1 1454.4 L2122.6 1453.9 L2122.0 1453.3 L2121.4 1452.8 L2120.7 1452.3 L2120.1 1451.7 L2119.4 1451.2 L2118.7 1450.6 L2118.1 1450.1 L2117.6 1449.6 L2117.1 1449.1 L2116.7 1448.6 L2116.5 1448.1 L2116.3 1447.7 L2116.3 1447.2 L2116.4 1446.8 L2116.7 1446.4 L2117.1 1446.0 L2117.6 1445.7 L2118.2 1445.4 L2119.0 1445.1 L2119.9 1444.8 L2120.8 1444.5 L2121.8 1444.2 L2122.9 1444.0 L2124.1 1443.7 L2125.2 1443.5 L2126.4 1443.2 L2127.5 1443.0 L2128.6 1442.7 L2129.6 1442.4 L2130.5 1442.1 L2131.4 1441.9 L2132.1 1441.5 L2132.8 1441.2 L2133.3 1440.9 L2133.7 1440.5 L2133.9 1440.1 L2134.0 1439.7 L2134.0 1439.2 L2133.8 1438.8 L2133.5 1438.3 L2133.1 1437.8 L2132.6 1437.3 L2132.1 1436.8 L2131.5 1436.2 L2130.8 1435.7 L2130.1 1435.2 L2129.5 1434.6 L2128.8 1434.1 L2128.2 1433.5 L2127.6 1433.0 L2127.1 1432.5 L2126.7 1432.0 L2126.4 1431.5 L2126.3 1431.1 L2126.2 1430.6 L2126.3 1430.2 L2126.5 1429.8 L2126.9 1429.4 L2127.4 1429.1 L2128.0 1428.8 L2128.7 1428.4 L2129.6 1428.1 L2130.5 1427.9 L2131.5 1427.6 L2132.6 1427.3 L2133.7 1427.1 L2134.9 1426.8 L2136.0 1426.6 L2137.1 1426.3 L2138.2 1426.1 L2139.3 1425.8 L2140.2 1425.5" fill="none" stroke="#3b2f8c" stroke-width="5.00" stroke-linejoin="round" stroke-linecap="round"/>
<path d="M2089.0 1495.2 L2089.8 1494.9 L2090.8 1494.6 L2091.8 1494.3 L2092.9 1494.1 L2094.0 1493.8 L2095.1 1493.6 L2096.3 1493.3 L2097.4 1493.1 L2098.5 1492.8 L2099.6 1492.6 L2100.5 1492.3 L2101.4 1492.0 L2102.2 1491.7 L2102.9 1491.4 L2103.4 1491.0 L2103.8 1490.6" fill="none" stroke="#938ddb" stroke-width="2.40" stroke-linecap="round"/>
<path d="M2103.8 1490.6 L2104.1 1490.3 L2104.2 1489.8 L2104.2 1489.4 L2104.1 1489.0 L2103.9 1488.5 L2103.5 1488.0 L2103.1 1487.5 L2102.5 1487.0 L2101.9 1486.5 L2101.3 1485.9 L2100.6 1485.4 L2099.9 1484.8 L2099.3 1484.3 L2098.6 1483.8 L2098.0 1483.2 L2097.5 1482.7 L2097.1 1482.2 L2096.8 1481.7 L2096.6 1481.3 L2096.5 1480.8 L2096.5 1480.4" fill="none" stroke="#554aa8" stroke-width="1.60" stroke-linecap="round"/>
<path d="M2096.5 1480.4 L2096.7 1480.0 L2097.0 1479.6 L2097.5 1479.2 L2098.0 1478.9 L2098.7 1478.6 L2099.5 1478.3 L2100.5 1478.0 L2101.5 1477.7 L2102.5 1477.5 L2103.6 1477.2 L2104.8 1477.0 L2105.9 1476.7 L2107.1 1476.5 L2108.2 1476.2 L2109.2 1475.9 L2110.2 1475.7 L2111.1 1475.4 L2111.9 1475.1 L2112.6 1474.8 L2113.2 1474.4 L2113.6 1474.1 L2114.0 1473.7" fill="none" stroke="#938ddb" stroke-width="2.40" stroke-linecap="round"/>
<path d="M2114.0 1473.7 L2114.1 1473.3 L2114.2 1472.8 L2114.1 1472.4 L2113.8 1471.9 L2113.5 1471.4 L2113.1 1470.9 L2112.6 1470.4 L2112.0 1469.9 L2111.3 1469.4 L2110.7 1468.8 L2110.0 1468.3 L2109.3 1467.7 L2108.7 1467.2 L2108.1 1466.7 L2107.6 1466.2 L2107.1 1465.7 L2106.8 1465.2 L2106.5 1464.7 L2106.4 1464.2 L2106.4 1463.8 L2106.6 1463.4" fill="none" stroke="#554aa8" stroke-width="1.60" stroke-linecap="round"/>
<path d="M2106.6 1463.4 L2106.8 1463.0 L2107.3 1462.6 L2107.8 1462.3 L2108.5 1462.0 L2109.3 1461.7 L2110.2 1461.4 L2111.1 1461.1 L2112.2 1460.8 L2113.3 1460.6 L2114.4 1460.3 L2115.6 1460.1 L2116.7 1459.8 L2117.8 1459.6 L2118.9 1459.3 L2119.9 1459.0 L2120.8 1458.8 L2121.7 1458.5 L2122.4 1458.1 L2123.0 1457.8 L2123.5 1457.5 L2123.8 1457.1" fill="none" stroke="#938ddb" stroke-width="2.40" stroke-linecap="round"/>
<path d="M2123.8 1457.1 L2124.0 1456.7 L2124.1 1456.3 L2124.0 1455.8 L2123.8 1455.3 L2123.5 1454.9 L2123.1 1454.4 L2122.6 1453.9 L2122.0 1453.3 L2121.4 1452.8 L2120.7 1452.3 L2120.1 1451.7 L2119.4 1451.2 L2118.7 1450.6 L2118.1 1450.1 L2117.6 1449.6 L2117.1 1449.1 L2116.7 1448.6 L2116.5 1448.1 L2116.3 1447.7 L2116.3 1447.2 L2116.4 1446.8" fill="none" stroke="#554aa8" stroke-width="1.60" stroke-linecap="round"/>
<path d="M2116.4 1446.8 L2116.7 1446.4 L2117.1 1446.0 L2117.6 1445.7 L2118.2 1445.4 L2119.0 1445.1 L2119.9 1444.8 L2120.8 1444.5 L2121.8 1444.2 L2122.9 1444.0 L2124.1 1443.7 L2125.2 1443.5 L2126.4 1443.2 L2127.5 1443.0 L2128.6 1442.7 L2129.6 1442.4 L2130.5 1442.1 L2131.4 1441.9 L2132.1 1441.5 L2132.8 1441.2 L2133.3 1440.9 L2133.7 1440.5" fill="none" stroke="#938ddb" stroke-width="2.40" stroke-linecap="round"/>
<path d="M2133.7 1440.5 L2133.9 1440.1 L2134.0 1439.7 L2134.0 1439.2 L2133.8 1438.8 L2133.5 1438.3 L2133.1 1437.8 L2132.6 1437.3 L2132.1 1436.8 L2131.5 1436.2 L2130.8 1435.7 L2130.1 1435.2 L2129.5 1434.6 L2128.8 1434.1 L2128.2 1433.5 L2127.6 1433.0 L2127.1 1432.5 L2126.7 1432.0 L2126.4 1431.5 L2126.3 1431.1 L2126.2 1430.6 L2126.3 1430.2" fill="none" stroke="#554aa8" stroke-width="1.60" stroke-linecap="round"/>
<path d="M2126.3 1430.2 L2126.5 1429.8 L2126.9 1429.4 L2127.4 1429.1 L2128.0 1428.8 L2128.7 1428.4 L2129.6 1428.1 L2130.5 1427.9 L2131.5 1427.6 L2132.6 1427.3 L2133.7 1427.1 L2134.9 1426.8 L2136.0 1426.6 L2137.1 1426.3 L2138.2 1426.1 L2139.3 1425.8 L2140.2 1425.5" fill="none" stroke="#938ddb" stroke-width="2.40" stroke-linecap="round"/>
<path d="M2474.7 1490.0 L2475.4 1489.7 L2476.2 1489.5 L2477.1 1489.3 L2478.0 1489.0 L2479.0 1488.8 L2480.0 1488.6 L2481.0 1488.4 L2481.9 1488.2 L2482.9 1488.0 L2483.8 1487.7 L2484.6 1487.5 L2485.4 1487.2 L2486.0 1487.0 L2486.6 1486.7 L2487.1 1486.4 L2487.4 1486.1 L2487.7 1485.8 L2487.8 1485.4 L2487.8 1485.0 L2487.7 1484.6 L2487.5 1484.2 L2487.2 1483.8 L2486.8 1483.4 L2486.3 1482.9 L2485.8 1482.5 L2485.3 1482.0 L2484.7 1481.6 L2484.1 1481.1 L2483.5 1480.6 L2483.0 1480.2 L2482.5 1479.7 L2482.0 1479.3 L2481.7 1478.8 L2481.4 1478.4 L2481.2 1478.0 L2481.1 1477.6 L2481.2 1477.3 L2481.3 1476.9 L2481.6 1476.6 L2482.0 1476.3 L2482.5 1476.0 L2483.1 1475.7 L2483.8 1475.5 L2484.6 1475.2 L2485.4 1475.0 L2486.3 1474.7 L2487.3 1474.5 L2488.3 1474.3 L2489.2 1474.1 L2490.2 1473.9 L2491.2 1473.7 L2492.1 1473.4 L2492.9 1473.2 L2493.7 1473.0 L2494.4 1472.7 L2495.0 1472.4 L2495.5 1472.1 L2495.9 1471.8 L2496.2 1471.5 L2496.3 1471.1 L2496.3 1470.8 L2496.3 1470.4 L2496.1 1470.0 L2495.8 1469.6 L2495.4 1469.1 L2495.0 1468.7 L2494.5 1468.2 L2493.9 1467.8 L2493.3 1467.3 L2492.8 1466.8 L2492.2 1466.4 L2491.6 1465.9 L2491.1 1465.5 L2490.7 1465.0 L2490.3 1464.6 L2490.0 1464.2 L2489.8 1463.8 L2489.7 1463.4 L2489.7 1463.0 L2489.8 1462.7 L2490.0 1462.3 L2490.4 1462.0 L2490.9 1461.7 L2491.4 1461.4 L2492.1 1461.2 L2492.9 1460.9 L2493.7 1460.7 L2494.6 1460.4 L2495.6 1460.2 L2496.6 1460.0 L2497.5 1459.8 L2498.5 1459.6 L2499.5 1459.4 L2500.4 1459.1 L2501.3 1458.9 L2502.1 1458.7 L2502.8 1458.4 L2503.4 1458.1 L2503.9 1457.8 L2504.3 1457.5 L2504.6 1457.2 L2504.8 1456.9 L2504.9 1456.5 L2504.8 1456.1 L2504.6 1455.7 L2504.4 1455.3 L2504.0 1454.9 L2503.6 1454.4 L2503.1 1454.0 L2502.6 1453.5 L2502.0 1453.1 L2501.4 1452.6 L2500.8 1452.1 L2500.3 1451.7 L2499.8 1451.2 L2499.3 1450.8 L2498.9 1450.3 L2498.6 1449.9 L2498.3 1449.5 L2498.2 1449.1 L2498.2 1448.7 L2498.3 1448.4 L2498.5 1448.0 L2498.8 1447.7 L2499.3 1447.4 L2499.8 1447.1 L2500.5 1446.9 L2501.2 1446.6 L2502.1 1446.4 L2502.9 1446.2 L2503.9 1445.9 L2504.9 1445.7 L2505.8 1445.5 L2506.8 1445.3 L2507.8 1445.1 L2508.7 1444.8 L2509.6 1444.6 L2510.4 1444.4 L2511.2 1444.1 L2511.8 1443.8 L2512.3 1443.6 L2512.8 1443.3 L2513.1 1442.9 L2513.3 1442.6 L2513.4 1442.2 L2513.4 1441.9 L2513.2 1441.5 L2513.0 1441.1 L2512.6 1440.6 L2512.2 1440.2 L2511.8 1439.7 L2511.2 1439.3 L2510.7 1438.8 L2510.1 1438.4 L2509.5 1437.9 L2508.9 1437.4 L2508.4 1437.0 L2507.9 1436.5 L2507.5 1436.1 L2507.1 1435.7 L2506.9 1435.3 L2506.7 1434.9 L2506.7 1434.5 L2506.8 1434.1 L2507.0 1433.8 L2507.3 1433.5 L2507.7 1433.1 L2508.2 1432.9 L2508.9 1432.6 L2509.6 1432.3 L2510.4 1432.1 L2511.3 1431.9 L2512.2 1431.6 L2513.2 1431.4 L2514.1 1431.2 L2515.1 1431.0 L2516.1 1430.8 L2517.0 1430.6 L2517.9 1430.3 L2518.8 1430.1" fill="none" stroke="#3b2f8c" stroke-width="4.36" stroke-linejoin="round" stroke-linecap="round"/>
<path d="M2474.7 1490.0 L2475.4 1489.7 L2476.2 1489.5 L2477.1 1489.3 L2478.0 1489.0 L2479.0 1488.8 L2480.0 1488.6 L2481.0 1488.4 L2481.9 1488.2 L2482.9 1488.0 L2483.8 1487.7 L2484.6 1487.5 L2485.4 1487.2 L2486.0 1487.0 L2486.6 1486.7 L2487.1 1486.4 L2487.4 1486.1" fill="none" stroke="#938ddb" stroke-width="2.08" stroke-linecap="round"/>
<path d="M2487.4 1486.1 L2487.7 1485.8 L2487.8 1485.4 L2487.8 1485.0 L2487.7 1484.6 L2487.5 1484.2 L2487.2 1483.8 L2486.8 1483.4 L2486.3 1482.9 L2485.8 1482.5 L2485.3 1482.0 L2484.7 1481.6 L2484.1 1481.1 L2483.5 1480.6 L2483.0 1480.2 L2482.5 1479.7 L2482.0 1479.3 L2481.7 1478.8 L2481.4 1478.4 L2481.2 1478.0 L2481.1 1477.6 L2481.2 1477.3" fill="none" stroke="#554aa8" stroke-width="1.38" stroke-linecap="round"/>
<path d="M2481.2 1477.3 L2481.3 1476.9 L2481.6 1476.6 L2482.0 1476.3 L2482.5 1476.0 L2483.1 1475.7 L2483.8 1475.5 L2484.6 1475.2 L2485.4 1475.0 L2486.3 1474.7 L2487.3 1474.5 L2488.3 1474.3 L2489.2 1474.1 L2490.2 1473.9 L2491.2 1473.7 L2492.1 1473.4 L2492.9 1473.2 L2493.7 1473.0 L2494.4 1472.7 L2495.0 1472.4 L2495.5 1472.1 L2495.9 1471.8 L2496.2 1471.5" fill="none" stroke="#938ddb" stroke-width="2.08" stroke-linecap="round"/>
<path d="M2496.2 1471.5 L2496.3 1471.1 L2496.3 1470.8 L2496.3 1470.4 L2496.1 1470.0 L2495.8 1469.6 L2495.4 1469.1 L2495.0 1468.7 L2494.5 1468.2 L2493.9 1467.8 L2493.3 1467.3 L2492.8 1466.8 L2492.2 1466.4 L2491.6 1465.9 L2491.1 1465.5 L2490.7 1465.0 L2490.3 1464.6 L2490.0 1464.2 L2489.8 1463.8 L2489.7 1463.4 L2489.7 1463.0 L2489.8 1462.7" fill="none" stroke="#554aa8" stroke-width="1.38" stroke-linecap="round"/>
<path d="M2489.8 1462.7 L2490.0 1462.3 L2490.4 1462.0 L2490.9 1461.7 L2491.4 1461.4 L2492.1 1461.2 L2492.9 1460.9 L2493.7 1460.7 L2494.6 1460.4 L2495.6 1460.2 L2496.6 1460.0 L2497.5 1459.8 L2498.5 1459.6 L2499.5 1459.4 L2500.4 1459.1 L2501.3 1458.9 L2502.1 1458.7 L2502.8 1458.4 L2503.4 1458.1 L2503.9 1457.8 L2504.3 1457.5 L2504.6 1457.2" fill="none" stroke="#938ddb" stroke-width="2.08" stroke-linecap="round"/>
<path d="M2504.6 1457.2 L2504.8 1456.9 L2504.9 1456.5 L2504.8 1456.1 L2504.6 1455.7 L2504.4 1455.3 L2504.0 1454.9 L2503.6 1454.4 L2503.1 1454.0 L2502.6 1453.5 L2502.0 1453.1 L2501.4 1452.6 L2500.8 1452.1 L2500.3 1451.7 L2499.8 1451.2 L2499.3 1450.8 L2498.9 1450.3 L2498.6 1449.9 L2498.3 1449.5 L2498.2 1449.1 L2498.2 1448.7 L2498.3 1448.4" fill="none" stroke="#554aa8" stroke-width="1.38" stroke-linecap="round"/>
<path d="M2498.3 1448.4 L2498.5 1448.0 L2498.8 1447.7 L2499.3 1447.4 L2499.8 1447.1 L2500.5 1446.9 L2501.2 1446.6 L2502.1 1446.4 L2502.9 1446.2 L2503.9 1445.9 L2504.9 1445.7 L2505.8 1445.5 L2506.8 1445.3 L2507.8 1445.1 L2508.7 1444.8 L2509.6 1444.6 L2510.4 1444.4 L2511.2 1444.1 L2511.8 1443.8 L2512.3 1443.6 L2512.8 1443.3 L2513.1 1442.9" fill="none" stroke="#938ddb" stroke-width="2.08" stroke-linecap="round"/>
<path d="M2513.1 1442.9 L2513.3 1442.6 L2513.4 1442.2 L2513.4 1441.9 L2513.2 1441.5 L2513.0 1441.1 L2512.6 1440.6 L2512.2 1440.2 L2511.8 1439.7 L2511.2 1439.3 L2510.7 1438.8 L2510.1 1438.4 L2509.5 1437.9 L2508.9 1437.4 L2508.4 1437.0 L2507.9 1436.5 L2507.5 1436.1 L2507.1 1435.7 L2506.9 1435.3 L2506.7 1434.9 L2506.7 1434.5 L2506.8 1434.1" fill="none" stroke="#554aa8" stroke-width="1.38" stroke-linecap="round"/>
<path d="M2506.8 1434.1 L2507.0 1433.8 L2507.3 1433.5 L2507.7 1433.1 L2508.2 1432.9 L2508.9 1432.6 L2509.6 1432.3 L2510.4 1432.1 L2511.3 1431.9 L2512.2 1431.6 L2513.2 1431.4 L2514.1 1431.2 L2515.1 1431.0 L2516.1 1430.8 L2517.0 1430.6 L2517.9 1430.3 L2518.8 1430.1" fill="none" stroke="#938ddb" stroke-width="2.08" stroke-linecap="round"/>
<path d="M2810.7 1471.4 L2811.0 1471.3 L2811.3 1471.2 L2811.6 1471.1 L2812.0 1471.0 L2812.4 1470.9 L2812.8 1470.9 L2813.2 1470.8 L2813.6 1470.7 L2813.9 1470.6 L2814.3 1470.5 L2814.6 1470.4 L2814.9 1470.3 L2815.2 1470.2 L2815.4 1470.1 L2815.6 1470.0 L2815.7 1469.9 L2815.8 1469.7 L2815.9 1469.6 L2815.9 1469.4 L2815.8 1469.3 L2815.8 1469.1 L2815.6 1469.0 L2815.5 1468.8 L2815.3 1468.6 L2815.1 1468.4 L2814.9 1468.2 L2814.6 1468.1 L2814.4 1467.9 L2814.2 1467.7 L2814.0 1467.5 L2813.8 1467.3 L2813.6 1467.2 L2813.5 1467.0 L2813.3 1466.8 L2813.3 1466.7 L2813.2 1466.5 L2813.3 1466.4 L2813.3 1466.2 L2813.4 1466.1 L2813.6 1466.0 L2813.8 1465.9 L2814.0 1465.8 L2814.3 1465.6 L2814.6 1465.6 L2814.9 1465.5 L2815.3 1465.4 L2815.7 1465.3 L2816.1 1465.2 L2816.5 1465.1 L2816.8 1465.0 L2817.2 1464.9 L2817.6 1464.9 L2817.9 1464.8 L2818.2 1464.7 L2818.5 1464.6 L2818.7 1464.4 L2818.9 1464.3 L2819.1 1464.2 L2819.2 1464.1 L2819.2 1463.9 L2819.3 1463.8 L2819.2 1463.6 L2819.1 1463.5 L2819.0 1463.3 L2818.9 1463.1 L2818.7 1463.0 L2818.5 1462.8 L2818.3 1462.6 L2818.1 1462.4 L2817.8 1462.2 L2817.6 1462.1 L2817.4 1461.9 L2817.2 1461.7 L2817.0 1461.5 L2816.9 1461.4 L2816.7 1461.2 L2816.7 1461.0 L2816.6 1460.9 L2816.6 1460.7 L2816.7 1460.6 L2816.8 1460.5 L2816.9 1460.3 L2817.1 1460.2 L2817.3 1460.1 L2817.6 1460.0 L2817.9 1459.9 L2818.2 1459.8 L2818.6 1459.7 L2819.0 1459.6 L2819.3 1459.5 L2819.7 1459.5 L2820.1 1459.4 L2820.5 1459.3 L2820.9 1459.2 L2821.2 1459.1 L2821.5 1459.0 L2821.8 1458.9 L2822.1 1458.8 L2822.3 1458.7 L2822.4 1458.6 L2822.5 1458.4 L2822.6 1458.3 L2822.6 1458.2 L2822.6 1458.0 L2822.5 1457.8 L2822.4 1457.7 L2822.3 1457.5 L2822.1 1457.3 L2821.9 1457.2 L2821.7 1457.0 L2821.5 1456.8 L2821.3 1456.6 L2821.0 1456.4 L2820.8 1456.2 L2820.6 1456.1 L2820.4 1455.9 L2820.3 1455.7 L2820.1 1455.6 L2820.0 1455.4 L2820.0 1455.2 L2820.0 1455.1 L2820.0 1454.9 L2820.1 1454.8 L2820.2 1454.7 L2820.4 1454.6 L2820.6 1454.5 L2820.9 1454.4 L2821.2 1454.3 L2821.5 1454.2 L2821.9 1454.1 L2822.2 1454.0 L2822.6 1453.9 L2823.0 1453.8 L2823.4 1453.7 L2823.8 1453.6 L2824.2 1453.5 L2824.5 1453.5 L2824.8 1453.4 L2825.1 1453.3 L2825.4 1453.2 L2825.6 1453.0 L2825.8 1452.9 L2825.9 1452.8 L2826.0 1452.7 L2826.0 1452.5 L2826.0 1452.4 L2825.9 1452.2 L2825.8 1452.1 L2825.7 1451.9 L2825.5 1451.7 L2825.4 1451.5 L2825.1 1451.4 L2824.9 1451.2 L2824.7 1451.0 L2824.5 1450.8 L2824.2 1450.6 L2824.0 1450.4 L2823.8 1450.3 L2823.7 1450.1 L2823.5 1449.9 L2823.4 1449.8 L2823.4 1449.6 L2823.4 1449.4 L2823.4 1449.3 L2823.5 1449.2 L2823.6 1449.0 L2823.7 1448.9 L2824.0 1448.8 L2824.2 1448.7 L2824.5 1448.6 L2824.8 1448.5 L2825.2 1448.4 L2825.5 1448.3 L2825.9 1448.2 L2826.3 1448.2 L2826.7 1448.1 L2827.1 1448.0 L2827.4 1447.9 L2827.8 1447.8 L2828.1 1447.7" fill="none" stroke="#3b2f8c" stroke-width="1.96" stroke-linejoin="round" stroke-linecap="round"/>
<path d="M2810.7 1471.4 L2811.0 1471.3 L2811.3 1471.2 L2811.6 1471.1 L2812.0 1471.0 L2812.4 1470.9 L2812.8 1470.9 L2813.2 1470.8 L2813.6 1470.7 L2813.9 1470.6 L2814.3 1470.5 L2814.6 1470.4 L2814.9 1470.3 L2815.2 1470.2 L2815.4 1470.1 L2815.6 1470.0 L2815.7 1469.9" fill="none" stroke="#938ddb" stroke-width="0.88" stroke-linecap="round"/>
<path d="M2815.7 1469.9 L2815.8 1469.7 L2815.9 1469.6 L2815.9 1469.4 L2815.8 1469.3 L2815.8 1469.1 L2815.6 1469.0 L2815.5 1468.8 L2815.3 1468.6 L2815.1 1468.4 L2814.9 1468.2 L2814.6 1468.1 L2814.4 1467.9 L2814.2 1467.7 L2814.0 1467.5 L2813.8 1467.3 L2813.6 1467.2 L2813.5 1467.0 L2813.3 1466.8 L2813.3 1466.7 L2813.2 1466.5 L2813.3 1466.4" fill="none" stroke="#554aa8" stroke-width="0.54" stroke-linecap="round"/>
<path d="M2813.3 1466.4 L2813.3 1466.2 L2813.4 1466.1 L2813.6 1466.0 L2813.8 1465.9 L2814.0 1465.8 L2814.3 1465.6 L2814.6 1465.6 L2814.9 1465.5 L2815.3 1465.4 L2815.7 1465.3 L2816.1 1465.2 L2816.5 1465.1 L2816.8 1465.0 L2817.2 1464.9 L2817.6 1464.9 L2817.9 1464.8 L2818.2 1464.7 L2818.5 1464.6 L2818.7 1464.4 L2818.9 1464.3 L2819.1 1464.2 L2819.2 1464.1" fill="none" stroke="#938ddb" stroke-width="0.88" stroke-linecap="round"/>
<path d="M2819.2 1464.1 L2819.2 1463.9 L2819.3 1463.8 L2819.2 1463.6 L2819.1 1463.5 L2819.0 1463.3 L2818.9 1463.1 L2818.7 1463.0 L2818.5 1462.8 L2818.3 1462.6 L2818.1 1462.4 L2817.8 1462.2 L2817.6 1462.1 L2817.4 1461.9 L2817.2 1461.7 L2817.0 1461.5 L2816.9 1461.4 L2816.7 1461.2 L2816.7 1461.0 L2816.6 1460.9 L2816.6 1460.7 L2816.7 1460.6" fill="none" stroke="#554aa8" stroke-width="0.54" stroke-linecap="round"/>
<path d="M2816.7 1460.6 L2816.8 1460.5 L2816.9 1460.3 L2817.1 1460.2 L2817.3 1460.1 L2817.6 1460.0 L2817.9 1459.9 L2818.2 1459.8 L2818.6 1459.7 L2819.0 1459.6 L2819.3 1459.5 L2819.7 1459.5 L2820.1 1459.4 L2820.5 1459.3 L2820.9 1459.2 L2821.2 1459.1 L2821.5 1459.0 L2821.8 1458.9 L2822.1 1458.8 L2822.3 1458.7 L2822.4 1458.6 L2822.5 1458.4" fill="none" stroke="#938ddb" stroke-width="0.88" stroke-linecap="round"/>
<path d="M2822.5 1458.4 L2822.6 1458.3 L2822.6 1458.2 L2822.6 1458.0 L2822.5 1457.8 L2822.4 1457.7 L2822.3 1457.5 L2822.1 1457.3 L2821.9 1457.2 L2821.7 1457.0 L2821.5 1456.8 L2821.3 1456.6 L2821.0 1456.4 L2820.8 1456.2 L2820.6 1456.1 L2820.4 1455.9 L2820.3 1455.7 L2820.1 1455.6 L2820.0 1455.4 L2820.0 1455.2 L2820.0 1455.1 L2820.0 1454.9" fill="none" stroke="#554aa8" stroke-width="0.54" stroke-linecap="round"/>
<path d="M2820.0 1454.9 L2820.1 1454.8 L2820.2 1454.7 L2820.4 1454.6 L2820.6 1454.5 L2820.9 1454.4 L2821.2 1454.3 L2821.5 1454.2 L2821.9 1454.1 L2822.2 1454.0 L2822.6 1453.9 L2823.0 1453.8 L2823.4 1453.7 L2823.8 1453.6 L2824.2 1453.5 L2824.5 1453.5 L2824.8 1453.4 L2825.1 1453.3 L2825.4 1453.2 L2825.6 1453.0 L2825.8 1452.9 L2825.9 1452.8" fill="none" stroke="#938ddb" stroke-width="0.88" stroke-linecap="round"/>
<path d="M2825.9 1452.8 L2826.0 1452.7 L2826.0 1452.5 L2826.0 1452.4 L2825.9 1452.2 L2825.8 1452.1 L2825.7 1451.9 L2825.5 1451.7 L2825.4 1451.5 L2825.1 1451.4 L2824.9 1451.2 L2824.7 1451.0 L2824.5 1450.8 L2824.2 1450.6 L2824.0 1450.4 L2823.8 1450.3 L2823.7 1450.1 L2823.5 1449.9 L2823.4 1449.8 L2823.4 1449.6 L2823.4 1449.4 L2823.4 1449.3" fill="none" stroke="#554aa8" stroke-width="0.54" stroke-linecap="round"/>
<path d="M2823.4 1449.3 L2823.5 1449.2 L2823.6 1449.0 L2823.7 1448.9 L2824.0 1448.8 L2824.2 1448.7 L2824.5 1448.6 L2824.8 1448.5 L2825.2 1448.4 L2825.5 1448.3 L2825.9 1448.2 L2826.3 1448.2 L2826.7 1448.1 L2827.1 1448.0 L2827.4 1447.9 L2827.8 1447.8 L2828.1 1447.7" fill="none" stroke="#938ddb" stroke-width="0.88" stroke-linecap="round"/>
<path d="M2870.4 1485.0 L2871.0 1484.8 L2871.7 1484.6 L2872.4 1484.4 L2873.1 1484.2 L2873.9 1484.0 L2874.7 1483.9 L2875.6 1483.7 L2876.4 1483.5 L2877.1 1483.3 L2877.9 1483.1 L2878.6 1482.9 L2879.2 1482.7 L2879.8 1482.5 L2880.2 1482.3 L2880.6 1482.0 L2880.9 1481.8 L2881.1 1481.5 L2881.2 1481.2 L2881.2 1480.9 L2881.1 1480.6 L2881.0 1480.2 L2880.7 1479.9 L2880.4 1479.5 L2880.0 1479.2 L2879.6 1478.8 L2879.1 1478.4 L2878.6 1478.0 L2878.2 1477.6 L2877.7 1477.3 L2877.2 1476.9 L2876.8 1476.5 L2876.5 1476.1 L2876.2 1475.8 L2875.9 1475.4 L2875.8 1475.1 L2875.7 1474.8 L2875.7 1474.5 L2875.9 1474.2 L2876.1 1473.9 L2876.4 1473.7 L2876.8 1473.4 L2877.3 1473.2 L2877.9 1473.0 L2878.5 1472.8 L2879.2 1472.6 L2880.0 1472.4 L2880.8 1472.2 L2881.6 1472.0 L2882.4 1471.9 L2883.2 1471.7 L2884.0 1471.5 L2884.8 1471.3 L2885.5 1471.1 L2886.1 1470.9 L2886.7 1470.7 L2887.2 1470.5 L2887.6 1470.2 L2887.9 1470.0 L2888.1 1469.7 L2888.2 1469.4 L2888.3 1469.1 L2888.2 1468.8 L2888.0 1468.5 L2887.8 1468.1 L2887.5 1467.8 L2887.1 1467.4 L2886.7 1467.0 L2886.3 1466.7 L2885.8 1466.3 L2885.3 1465.9 L2884.8 1465.5 L2884.4 1465.1 L2883.9 1464.7 L2883.6 1464.4 L2883.3 1464.0 L2883.0 1463.7 L2882.8 1463.3 L2882.8 1463.0 L2882.8 1462.7 L2882.9 1462.4 L2883.1 1462.1 L2883.4 1461.9 L2883.7 1461.6 L2884.2 1461.4 L2884.8 1461.2 L2885.4 1461.0 L2886.1 1460.8 L2886.9 1460.6 L2887.6 1460.4 L2888.4 1460.2 L2889.3 1460.1 L2890.1 1459.9 L2890.9 1459.7 L2891.6 1459.5 L2892.3 1459.3 L2893.0 1459.1 L2893.6 1458.9 L2894.1 1458.7 L2894.5 1458.5 L2894.9 1458.2 L2895.1 1457.9 L2895.3 1457.6 L2895.3 1457.3 L2895.3 1457.0 L2895.1 1456.7 L2894.9 1456.4 L2894.6 1456.0 L2894.3 1455.6 L2893.9 1455.3 L2893.4 1454.9 L2892.9 1454.5 L2892.5 1454.1 L2892.0 1453.7 L2891.5 1453.4 L2891.1 1453.0 L2890.7 1452.6 L2890.4 1452.3 L2890.1 1451.9 L2889.9 1451.6 L2889.8 1451.2 L2889.8 1450.9 L2889.9 1450.6 L2890.0 1450.4 L2890.3 1450.1 L2890.7 1449.9 L2891.1 1449.6 L2891.7 1449.4 L2892.3 1449.2 L2893.0 1449.0 L2893.7 1448.8 L2894.5 1448.6 L2895.3 1448.4 L2896.1 1448.3 L2896.9 1448.1 L2897.7 1447.9 L2898.5 1447.7 L2899.2 1447.5 L2899.9 1447.3 L2900.5 1447.1 L2901.0 1446.9 L2901.5 1446.7 L2901.8 1446.4 L2902.1 1446.1 L2902.3 1445.9 L2902.3 1445.6 L2902.3 1445.3 L2902.2 1444.9 L2902.0 1444.6 L2901.7 1444.2 L2901.4 1443.9 L2901.0 1443.5 L2900.6 1443.1 L2900.1 1442.8 L2899.6 1442.4 L2899.1 1442.0 L2898.7 1441.6 L2898.2 1441.2 L2897.8 1440.9 L2897.5 1440.5 L2897.2 1440.1 L2897.0 1439.8 L2896.9 1439.5 L2896.8 1439.2 L2896.9 1438.9 L2897.0 1438.6 L2897.3 1438.3 L2897.6 1438.1 L2898.1 1437.8 L2898.6 1437.6 L2899.2 1437.4 L2899.9 1437.2 L2900.6 1437.0 L2901.3 1436.8 L2902.1 1436.6 L2903.0 1436.5 L2903.8 1436.3 L2904.6 1436.1 L2905.4 1435.9 L2906.1 1435.7 L2906.8 1435.5" fill="none" stroke="#3b2f8c" stroke-width="3.67" stroke-linejoin="round" stroke-linecap="round"/>
<path d="M2870.4 1485.0 L2871.0 1484.8 L2871.7 1484.6 L2872.4 1484.4 L2873.1 1484.2 L2873.9 1484.0 L2874.7 1483.9 L2875.6 1483.7 L2876.4 1483.5 L2877.1 1483.3 L2877.9 1483.1 L2878.6 1482.9 L2879.2 1482.7 L2879.8 1482.5 L2880.2 1482.3 L2880.6 1482.0 L2880.9 1481.8" fill="none" stroke="#938ddb" stroke-width="1.73" stroke-linecap="round"/>
<path d="M2880.9 1481.8 L2881.1 1481.5 L2881.2 1481.2 L2881.2 1480.9 L2881.1 1480.6 L2881.0 1480.2 L2880.7 1479.9 L2880.4 1479.5 L2880.0 1479.2 L2879.6 1478.8 L2879.1 1478.4 L2878.6 1478.0 L2878.2 1477.6 L2877.7 1477.3 L2877.2 1476.9 L2876.8 1476.5 L2876.5 1476.1 L2876.2 1475.8 L2875.9 1475.4 L2875.8 1475.1 L2875.7 1474.8 L2875.7 1474.5" fill="none" stroke="#554aa8" stroke-width="1.14" stroke-linecap="round"/>
<path d="M2875.7 1474.5 L2875.9 1474.2 L2876.1 1473.9 L2876.4 1473.7 L2876.8 1473.4 L2877.3 1473.2 L2877.9 1473.0 L2878.5 1472.8 L2879.2 1472.6 L2880.0 1472.4 L2880.8 1472.2 L2881.6 1472.0 L2882.4 1471.9 L2883.2 1471.7 L2884.0 1471.5 L2884.8 1471.3 L2885.5 1471.1 L2886.1 1470.9 L2886.7 1470.7 L2887.2 1470.5 L2887.6 1470.2 L2887.9 1470.0 L2888.1 1469.7" fill="none" stroke="#938ddb" stroke-width="1.73" stroke-linecap="round"/>
<path d="M2888.1 1469.7 L2888.2 1469.4 L2888.3 1469.1 L2888.2 1468.8 L2888.0 1468.5 L2887.8 1468.1 L2887.5 1467.8 L2887.1 1467.4 L2886.7 1467.0 L2886.3 1466.7 L2885.8 1466.3 L2885.3 1465.9 L2884.8 1465.5 L2884.4 1465.1 L2883.9 1464.7 L2883.6 1464.4 L2883.3 1464.0 L2883.0 1463.7 L2882.8 1463.3 L2882.8 1463.0 L2882.8 1462.7 L2882.9 1462.4" fill="none" stroke="#554aa8" stroke-width="1.14" stroke-linecap="round"/>
<path d="M2882.9 1462.4 L2883.1 1462.1 L2883.4 1461.9 L2883.7 1461.6 L2884.2 1461.4 L2884.8 1461.2 L2885.4 1461.0 L2886.1 1460.8 L2886.9 1460.6 L2887.6 1460.4 L2888.4 1460.2 L2889.3 1460.1 L2890.1 1459.9 L2890.9 1459.7 L2891.6 1459.5 L2892.3 1459.3 L2893.0 1459.1 L2893.6 1458.9 L2894.1 1458.7 L2894.5 1458.5 L2894.9 1458.2 L2895.1 1457.9" fill="none" stroke="#938ddb" stroke-width="1.73" stroke-linecap="round"/>
<path d="M2895.1 1457.9 L2895.3 1457.6 L2895.3 1457.3 L2895.3 1457.0 L2895.1 1456.7 L2894.9 1456.4 L2894.6 1456.0 L2894.3 1455.6 L2893.9 1455.3 L2893.4 1454.9 L2892.9 1454.5 L2892.5 1454.1 L2892.0 1453.7 L2891.5 1453.4 L2891.1 1453.0 L2890.7 1452.6 L2890.4 1452.3 L2890.1 1451.9 L2889.9 1451.6 L2889.8 1451.2 L2889.8 1450.9 L2889.9 1450.6" fill="none" stroke="#554aa8" stroke-width="1.14" stroke-linecap="round"/>
<path d="M2889.9 1450.6 L2890.0 1450.4 L2890.3 1450.1 L2890.7 1449.9 L2891.1 1449.6 L2891.7 1449.4 L2892.3 1449.2 L2893.0 1449.0 L2893.7 1448.8 L2894.5 1448.6 L2895.3 1448.4 L2896.1 1448.3 L2896.9 1448.1 L2897.7 1447.9 L2898.5 1447.7 L2899.2 1447.5 L2899.9 1447.3 L2900.5 1447.1 L2901.0 1446.9 L2901.5 1446.7 L2901.8 1446.4 L2902.1 1446.1" fill="none" stroke="#938ddb" stroke-width="1.73" stroke-linecap="round"/>
<path d="M2902.1 1446.1 L2902.3 1445.9 L2902.3 1445.6 L2902.3 1445.3 L2902.2 1444.9 L2902.0 1444.6 L2901.7 1444.2 L2901.4 1443.9 L2901.0 1443.5 L2900.6 1443.1 L2900.1 1442.8 L2899.6 1442.4 L2899.1 1442.0 L2898.7 1441.6 L2898.2 1441.2 L2897.8 1440.9 L2897.5 1440.5 L2897.2 1440.1 L2897.0 1439.8 L2896.9 1439.5 L2896.8 1439.2 L2896.9 1438.9" fill="none" stroke="#554aa8" stroke-width="1.14" stroke-linecap="round"/>
<path d="M2896.9 1438.9 L2897.0 1438.6 L2897.3 1438.3 L2897.6 1438.1 L2898.1 1437.8 L2898.6 1437.6 L2899.2 1437.4 L2899.9 1437.2 L2900.6 1437.0 L2901.3 1436.8 L2902.1 1436.6 L2903.0 1436.5 L2903.8 1436.3 L2904.6 1436.1 L2905.4 1435.9 L2906.1 1435.7 L2906.8 1435.5" fill="none" stroke="#938ddb" stroke-width="1.73" stroke-linecap="round"/>
<text transform="translate(2240.21,1473.80) scale(0.9296,1)" font-family='"Liberation Sans", sans-serif' font-weight="normal" font-size="47" fill="#000">n.e.</text>
<text transform="translate(2342.25,1473.80) scale(0.9169,1)" font-family='"Liberation Sans", sans-serif' font-weight="normal" font-size="47" fill="#000">n.e.</text>
<text transform="translate(2577.56,1473.80) scale(0.9465,1)" font-family='"Liberation Sans", sans-serif' font-weight="normal" font-size="47" fill="#000">n.e.</text>
<rect x="1633" y="1517" width="1332" height="256" fill="#f8f8f8"/>
<text transform="translate(1640.48,1591.40) scale(1.0184,1)" font-family='"Liberation Sans", sans-serif' font-weight="normal" font-size="44" fill="#4d4d4d">Years since</text>
<text transform="translate(1641.03,1635.40) scale(1.0374,1)" font-family='"Liberation Sans", sans-serif' font-weight="normal" font-size="44" fill="#4d4d4d">diagnosis</text>
<text transform="translate(1641.09,1716.70) scale(1.0120,1)" font-family='"Liberation Sans", sans-serif' font-weight="normal" font-size="44.5" fill="#4d4d4d">Treatment</text>
<text transform="translate(1641.19,1760.40) scale(1.0045,1)" font-family='"Liberation Sans", sans-serif' font-weight="normal" font-size="44.5" fill="#4d4d4d">response</text>
<text transform="translate(1914.82,1611.30) scale(1.0900,1)" font-family='"Liberation Sans", sans-serif' font-weight="normal" font-size="44" fill="#4d4d4d">2</text>
<text transform="translate(2077.62,1611.30) scale(0.9381,1)" font-family='"Liberation Sans", sans-serif' font-weight="normal" font-size="44" fill="#4d4d4d">3</text>
<text transform="translate(2231.27,1611.30) scale(1.0318,1)" font-family='"Liberation Sans", sans-serif' font-weight="normal" font-size="44" fill="#4d4d4d">4</text>
<text transform="translate(2401.16,1611.30) scale(0.9190,1)" font-family='"Liberation Sans", sans-serif' font-weight="normal" font-size="44" fill="#4d4d4d">5</text>
<text transform="translate(2563.69,1611.30) scale(0.9571,1)" font-family='"Liberation Sans", sans-serif' font-weight="normal" font-size="44" fill="#4d4d4d">6</text>
<text transform="translate(2721.24,1611.30) scale(1.0800,1)" font-family='"Liberation Sans", sans-serif' font-weight="normal" font-size="44" fill="#4d4d4d">7</text>
<text transform="translate(2887.73,1611.30) scale(1.0333,1)" font-family='"Liberation Sans", sans-serif' font-weight="normal" font-size="44" fill="#4d4d4d">8</text>
<path d="M1921 1668.4H2906M1922.8 1668.4V1623.6M2087.1 1668.4V1623.6M2248.3 1668.4V1623.6M2410.3 1668.4V1623.6M2572.7 1668.4V1623.6M2731.1 1668.4V1623.6M2896.6 1668.4V1623.6" stroke="#000" stroke-width="3.6" fill="none"/>
<path d="M2903 1657.5L2918 1668.4L2903 1679.5Z" fill="#000"/>
<rect x="2004.8" y="1672.6" width="9.1" height="15" fill="#2456a0"/>
<rect x="2027.2" y="1672.6" width="10.0" height="15" fill="#a3282a"/>
<rect x="2141.6" y="1672.6" width="9.6" height="15" fill="#f4a02e"/>
<rect x="2271" y="1672.6" width="130.6" height="15" fill="#3b7b7f"/>
<rect x="2760.5" y="1672.6" width="46.4" height="15" fill="#3b7b7f"/>
<rect x="2837.9" y="1672.6" width="63.4" height="15" fill="#c8e6f8"/>
<path d="M2016 1681V1691" stroke="#000" stroke-width="2" stroke-dasharray="3 2"/>
<circle cx="2016" cy="1699.7" r="8.2" fill="none" stroke="#000" stroke-width="3.2"/>
<path d="M2038.7 1681V1691" stroke="#000" stroke-width="2" stroke-dasharray="3 2"/>
<circle cx="2038.7" cy="1699.7" r="8.2" fill="none" stroke="#000" stroke-width="3.2"/>
<path d="M2150.6 1681V1691" stroke="#000" stroke-width="2" stroke-dasharray="3 2"/>
<circle cx="2150.6" cy="1699.7" r="8.2" fill="none" stroke="#000" stroke-width="3.2"/>
<path d="M2403.2 1681V1691" stroke="#000" stroke-width="2" stroke-dasharray="3 2"/>
<circle cx="2403.2" cy="1699.7" r="8.2" fill="none" stroke="#000" stroke-width="3.2"/>
<path d="M2807.8 1681V1691" stroke="#000" stroke-width="2" stroke-dasharray="3 2"/>
<circle cx="2807.8" cy="1699.7" r="8.2" fill="none" stroke="#000" stroke-width="3.2"/>
<text transform="translate(2001.80,1751.10) scale(0.8966,1)" font-family='"Liberation Sans", sans-serif' font-weight="normal" font-size="45" fill="#000">AE</text>
<text transform="translate(2139.83,1751.10) scale(0.8862,1)" font-family='"Liberation Sans", sans-serif' font-weight="normal" font-size="45" fill="#000">SD</text>
<text transform="translate(2392.13,1752.20) scale(0.8869,1)" font-family='"Liberation Sans", sans-serif' font-weight="normal" font-size="45" fill="#000">CR</text>
<text transform="translate(2800.13,1752.20) scale(0.9186,1)" font-family='"Liberation Sans", sans-serif' font-weight="normal" font-size="45" fill="#000">NR</text>
<path d="M2106.2 1525C2109.2 1536 2121.2 1547 2121.2 1560A15 15 0 0 1 2091.2 1560C2091.2 1547 2103.2 1536 2106.2 1525Z" fill="#b01212" stroke="#7d0a0a" stroke-width="0.9"/>
<path d="M2106.2 1575.2V1692" stroke="#000" stroke-width="3.5" stroke-dasharray="6 7.5"/>
<path d="M2275.8 1525C2278.8 1536 2290.8 1547 2290.8 1560A15 15 0 0 1 2260.8 1560C2260.8 1547 2272.8 1536 2275.8 1525Z" fill="#b01212" stroke="#7d0a0a" stroke-width="0.9"/>
<path d="M2275.8 1575.2V1692" stroke="#000" stroke-width="3.5" stroke-dasharray="6 7.5"/>
<path d="M2372.2 1525C2375.2 1536 2387.2 1547 2387.2 1560A15 15 0 0 1 2357.2 1560C2357.2 1547 2369.2 1536 2372.2 1525Z" fill="#b01212" stroke="#7d0a0a" stroke-width="0.9"/>
<path d="M2372.2 1575.2V1692" stroke="#000" stroke-width="3.5" stroke-dasharray="6 7.5"/>
<path d="M2489.8 1525C2492.8 1536 2504.8 1547 2504.8 1560A15 15 0 0 1 2474.8 1560C2474.8 1547 2486.8 1536 2489.8 1525Z" fill="#b01212" stroke="#7d0a0a" stroke-width="0.9"/>
<path d="M2489.8 1575.2V1692" stroke="#000" stroke-width="3.5" stroke-dasharray="6 7.5"/>
<path d="M2603.6 1525C2606.6 1536 2618.6 1547 2618.6 1560A15 15 0 0 1 2588.6 1560C2588.6 1547 2600.6 1536 2603.6 1525Z" fill="#b01212" stroke="#7d0a0a" stroke-width="0.9"/>
<path d="M2603.6 1575.2V1692" stroke="#000" stroke-width="3.5" stroke-dasharray="6 7.5"/>
<path d="M2821.8 1525C2824.8 1536 2836.8 1547 2836.8 1560A15 15 0 0 1 2806.8 1560C2806.8 1547 2818.8 1536 2821.8 1525Z" fill="#b01212" stroke="#7d0a0a" stroke-width="0.9"/>
<path d="M2821.8 1575.2V1692" stroke="#000" stroke-width="3.5" stroke-dasharray="6 7.5"/>
<path d="M2880.6 1525C2883.6 1536 2895.6 1547 2895.6 1560A15 15 0 0 1 2865.6 1560C2865.6 1547 2877.6 1536 2880.6 1525Z" fill="#b01212" stroke="#7d0a0a" stroke-width="0.9"/>
<path d="M2880.6 1575.2V1692" stroke="#000" stroke-width="3.5" stroke-dasharray="6 7.5"/>
</svg>
</body></html>
